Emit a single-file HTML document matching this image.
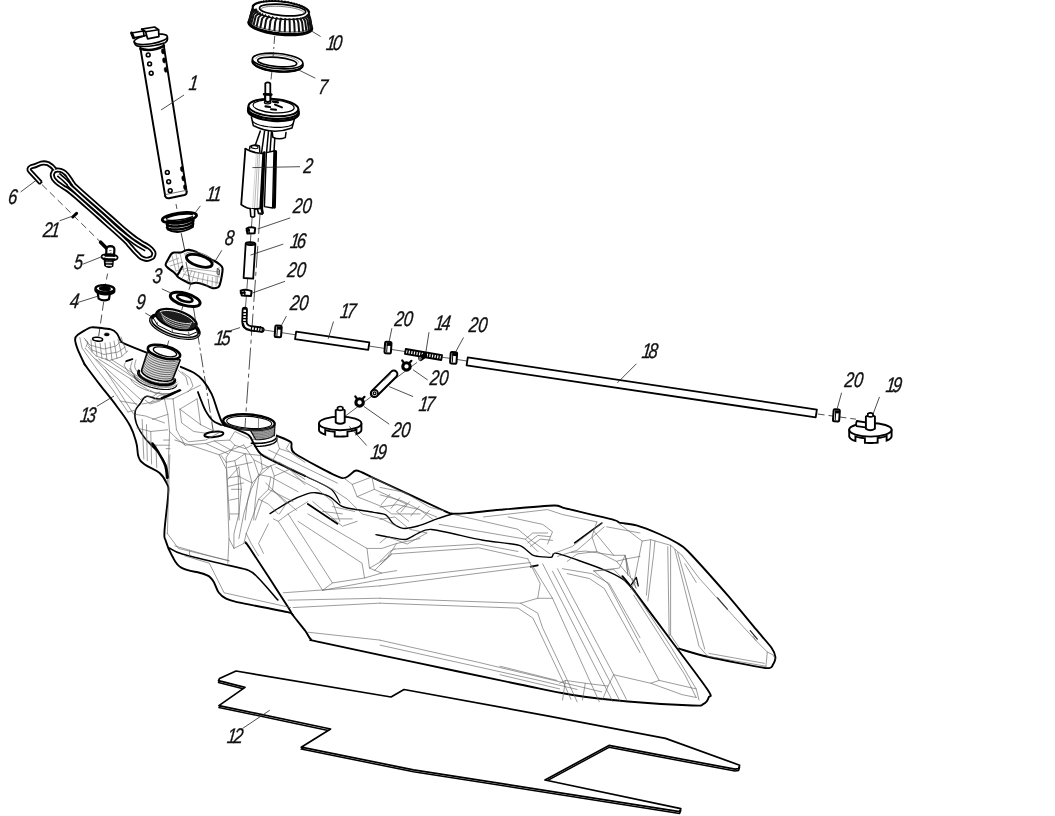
<!DOCTYPE html>
<html><head><meta charset="utf-8"><title>Fuel tank exploded view</title>
<style>html,body{margin:0;padding:0;background:#fff;overflow:hidden}svg{display:block;filter:grayscale(1)}
text{font-family:"Liberation Sans",sans-serif;font-style:italic;fill:#111;stroke:#111;stroke-width:0.35px;text-rendering:geometricPrecision}</style></head>
<body><svg width="1055" height="816" viewBox="0 0 1055 816">
<rect width="1055" height="816" fill="#fff"/>
<text transform="translate(188.3 89.5) skewX(-7) scale(0.78 1)" font-size="21.2">1</text>
<text transform="translate(325.6 49.8) skewX(-7) scale(0.78 1)" font-size="21.2" letter-spacing="-3.1">10</text>
<text transform="translate(317.8 93.7) skewX(-7) scale(0.78 1)" font-size="21.2">7</text>
<text transform="translate(302.9 172.6) skewX(-7) scale(0.78 1)" font-size="21.2">2</text>
<text transform="translate(292.5 213.1) skewX(-7) scale(0.78 1)" font-size="21.2">20</text>
<text transform="translate(289.5 247.7) skewX(-7) scale(0.78 1)" font-size="21.2" letter-spacing="-3.1">16</text>
<text transform="translate(286.8 276.8) skewX(-7) scale(0.78 1)" font-size="21.2">20</text>
<text transform="translate(205.5 201.4) skewX(-7) scale(0.78 1)" font-size="21.2" letter-spacing="-2.4">11</text>
<text transform="translate(224.2 244.8) skewX(-7) scale(0.78 1)" font-size="21.2">8</text>
<text transform="translate(151.9 282.8) skewX(-7) scale(0.78 1)" font-size="21.2">3</text>
<text transform="translate(7.5 203.5) skewX(-7) scale(0.78 1)" font-size="21.2">6</text>
<text transform="translate(42.4 236.8) skewX(-7) scale(0.78 1)" font-size="21.2" letter-spacing="-2.2">21</text>
<text transform="translate(73.2 268.7) skewX(-7) scale(0.78 1)" font-size="21.2">5</text>
<text transform="translate(69.3 308) skewX(-7) scale(0.78 1)" font-size="21.2">4</text>
<text transform="translate(135.6 308.6) skewX(-7) scale(0.78 1)" font-size="21.2">9</text>
<text transform="translate(214.1 344.5) skewX(-7) scale(0.78 1)" font-size="21.2" letter-spacing="-3.1">15</text>
<text transform="translate(289.4 310.3) skewX(-7) scale(0.78 1)" font-size="21.2">20</text>
<text transform="translate(339.6 318.4) skewX(-7) scale(0.78 1)" font-size="21.2" letter-spacing="-3.1">17</text>
<text transform="translate(393.9 326.1) skewX(-7) scale(0.78 1)" font-size="21.2">20</text>
<text transform="translate(434.1 330.3) skewX(-7) scale(0.78 1)" font-size="21.2" letter-spacing="-3.1">14</text>
<text transform="translate(468.3 332) skewX(-7) scale(0.78 1)" font-size="21.2">20</text>
<text transform="translate(641.2 358.3) skewX(-7) scale(0.78 1)" font-size="21.2" letter-spacing="-3.1">18</text>
<text transform="translate(429.2 385) skewX(-7) scale(0.78 1)" font-size="21.2">20</text>
<text transform="translate(418.2 411.2) skewX(-7) scale(0.78 1)" font-size="21.2" letter-spacing="-3.1">17</text>
<text transform="translate(391.4 436.8) skewX(-7) scale(0.78 1)" font-size="21.2">20</text>
<text transform="translate(370 458.8) skewX(-7) scale(0.78 1)" font-size="21.2" letter-spacing="-3.1">19</text>
<text transform="translate(844.1 387.3) skewX(-7) scale(0.78 1)" font-size="21.2">20</text>
<text transform="translate(885.2 391.6) skewX(-7) scale(0.78 1)" font-size="21.2" letter-spacing="-3.1">19</text>
<text transform="translate(79.4 421.8) skewX(-7) scale(0.78 1)" font-size="21.2" letter-spacing="-3.1">13</text>
<text transform="translate(226.6 742.6) skewX(-7) scale(0.78 1)" font-size="21.2" letter-spacing="-3.1">12</text>
<path d="M140.3,47.5 L165.2,196" stroke="#000" stroke-width="1.9" fill="none" stroke-linejoin="round" stroke-linecap="round"/>
<path d="M163.6,44.5 L186.6,191.5" stroke="#000" stroke-width="1.9" fill="none" stroke-linejoin="round" stroke-linecap="round"/>
<path d="M165.2,196 Q166,198.6 169,198.2 L184.5,195 Q187.2,194.2 186.6,191.5" stroke="#000" stroke-width="1.9" fill="none" stroke-linejoin="round" stroke-linecap="round"/>
<path d="M166,194.5 L186.3,190.3" stroke="#666" stroke-width="0.9" fill="none" stroke-linejoin="round" stroke-linecap="round"/>
<path d="M140.5,48.8 Q151.6,52.2 163.9,45.8" stroke="#000" stroke-width="2.6" fill="none" stroke-linejoin="round" stroke-linecap="round"/>
<ellipse cx="150.8" cy="39.2" rx="16.8" ry="4.6" stroke="#000" stroke-width="1.6" fill="#fff" transform="rotate(-9 150.8 39.2)"/>
<path d="M134.3,41.5 Q134.4,45.2 138,46.2 Q151,47.6 165,42.8 Q168,41 167.4,37.4" stroke="#000" stroke-width="1.7" fill="none" stroke-linejoin="round" stroke-linecap="round"/>
<path d="M131.6,33 L143.4,31 L144,35.8 L133.6,37.8 Z" stroke="#000" stroke-width="1.7" fill="#fff" stroke-linejoin="round" stroke-linecap="round"/>
<path d="M131.6,33 L133.6,37.8" stroke="#000" stroke-width="3" fill="none" stroke-linejoin="round" stroke-linecap="round"/>
<path d="M141.6,29.2 L154.6,27 L158.6,29.8 L158.9,36.6 L147.6,38.8 L145.6,31.8 Z" stroke="#000" stroke-width="1.7" fill="#fff" stroke-linejoin="round" stroke-linecap="round"/>
<path d="M145.6,31.8 L158.6,29.8" stroke="#000" stroke-width="1.4" fill="none" stroke-linejoin="round" stroke-linecap="round"/>
<path d="M141.6,29.2 L145.6,31.8" stroke="#000" stroke-width="1.4" fill="none" stroke-linejoin="round" stroke-linecap="round"/>
<ellipse cx="148.2" cy="54.9" rx="1.9" ry="1.9" stroke="#000" stroke-width="1.6" fill="none"/>
<ellipse cx="149.6" cy="63.9" rx="1.9" ry="1.9" stroke="#000" stroke-width="1.6" fill="none"/>
<ellipse cx="151.2" cy="73.2" rx="1.9" ry="1.9" stroke="#000" stroke-width="1.6" fill="none"/>
<ellipse cx="167.3" cy="172.4" rx="1.9" ry="1.9" stroke="#000" stroke-width="1.6" fill="none"/>
<ellipse cx="168.7" cy="181.7" rx="1.9" ry="1.9" stroke="#000" stroke-width="1.6" fill="none"/>
<ellipse cx="170.2" cy="190.7" rx="1.9" ry="1.9" stroke="#000" stroke-width="1.6" fill="none"/>
<ellipse cx="162.9" cy="51.4" rx="1.5" ry="2.6" stroke="#000" stroke-width="0.5" fill="#000" transform="rotate(-9 162.9 51.4)"/>
<ellipse cx="164.1" cy="60.4" rx="1.5" ry="2.6" stroke="#000" stroke-width="0.5" fill="#000" transform="rotate(-9 164.1 60.4)"/>
<ellipse cx="165.7" cy="69.8" rx="1.5" ry="2.6" stroke="#000" stroke-width="0.5" fill="#000" transform="rotate(-9 165.7 69.8)"/>
<ellipse cx="181.9" cy="169.1" rx="1.5" ry="2.6" stroke="#000" stroke-width="0.5" fill="#000" transform="rotate(-9 181.9 169.1)"/>
<ellipse cx="183.3" cy="178.4" rx="1.5" ry="2.6" stroke="#000" stroke-width="0.5" fill="#000" transform="rotate(-9 183.3 178.4)"/>
<ellipse cx="185" cy="187.3" rx="1.5" ry="2.6" stroke="#000" stroke-width="0.5" fill="#000" transform="rotate(-9 185 187.3)"/>
<line x1="161" y1="110" x2="184" y2="95" stroke="#222" stroke-width="0.8" stroke-linecap="butt"/>
<line x1="176" y1="204" x2="179" y2="220" stroke="#222" stroke-width="0.8" stroke-linecap="butt" stroke-dasharray="5 3"/>
<path d="M312.01,27.31 L312.29,28.15 L312.32,28.97 L312.12,29.76 L311.67,30.52 L310.98,31.24 L310.06,31.93 L308.91,32.56 L307.55,33.14 L305.97,33.66 L304.21,34.12 L302.26,34.52 L300.14,34.85 L297.87,35.11 L295.47,35.29 L292.95,35.4 L290.34,35.44 L287.65,35.41 L284.9,35.29 L282.12,35.11 L279.33,34.85 L276.54,34.52 L273.78,34.12 L271.07,33.66 L268.43,33.14 L265.89,32.56 L263.45,31.93 L261.14,31.25 L258.97,30.52 L256.97,29.76 L255.14,28.97 L253.51,28.15 L252.08,27.31 L250.87,26.46 L249.88,25.6 L249.12,24.74 L248.59,23.89 L248.31,23.05 L248.28,22.23 L248.48,21.44 L248.93,20.68 L252.75,7.25 L253,6.37 L253.55,5.54 L254.4,4.75 L255.54,4.03 L256.96,3.37 L258.64,2.79 L260.56,2.29 L262.7,1.87 L265.04,1.55 L267.56,1.32 L270.21,1.19 L272.99,1.15 L275.85,1.22 L278.76,1.39 L281.7,1.65 L284.63,2 L287.51,2.45 L290.32,2.98 L293.03,3.59 L295.6,4.27 L298.01,5.01 L300.23,5.82 L302.24,6.67 L304.02,7.56 L305.54,8.48 L306.79,9.41 L307.75,10.36 L308.42,11.31 L308.79,12.24 L308.85,13.15 Z" stroke="#000" stroke-width="1.8" fill="#fff" stroke-linejoin="round" stroke-linecap="round"/>
<path d="M311.63,28.29 L311.36,29.17 L310.76,30 L309.82,30.77 L308.55,31.49 L306.98,32.13 L305.12,32.69 L302.98,33.17 L300.59,33.56 L297.99,33.85 L295.19,34.05 L292.22,34.15 L289.13,34.15 L285.93,34.05 L282.68,33.85 L279.4,33.55 L276.13,33.16 L272.91,32.68 L269.76,32.12 L266.74,31.47 L263.86,30.76 L261.16,29.98 L258.67,29.15 L256.42,28.28 L254.43,27.36 L252.72,26.42 L251.32,25.47 L250.23,24.51 L249.47,23.56 L249.05,22.62 L248.97,21.71" stroke="#000" stroke-width="2.6" fill="none" stroke-linejoin="round" stroke-linecap="round"/>
<path d="M311.34,27.16 L310.79,27.97 L309.9,28.72 L308.68,29.41 L307.14,30.03 L305.31,30.58 L303.2,31.04 L300.83,31.42 L298.24,31.7 L295.44,31.89 L292.48,31.97 L289.38,31.97 L286.19,31.86 L282.93,31.65 L279.64,31.36 L276.37,30.96 L273.14,30.49 L269.99,29.93 L266.96,29.29 L264.08,28.59 L261.38,27.82 L258.91,27.01 L256.67,26.15 L254.7,25.26 L253.02,24.34 L251.65,23.42 L250.6,22.49 L249.88,21.57 L249.51,20.66" stroke="#444" stroke-width="0.8" fill="none" stroke-linejoin="round" stroke-linecap="round"/>
<path d="M308.65,13.53 L308.4,14.38 L307.86,15.2 L307.01,15.97 L305.88,16.67 L304.48,17.31 L302.81,17.88 L300.91,18.36 L298.78,18.77 L296.46,19.08 L293.96,19.3 L291.32,19.42 L288.57,19.45 L285.73,19.38 L282.84,19.21 L279.92,18.95 L277.02,18.6 L274.15,18.16 L271.36,17.64 L268.67,17.04 L266.12,16.37 L263.72,15.64 L261.51,14.85 L259.52,14.01 L257.76,13.14 L256.25,12.24 L255,11.32 L254.04,10.4 L253.38,9.47 L253.01,8.56 L252.95,7.67" stroke="#000" stroke-width="1.4" fill="none" stroke-linejoin="round" stroke-linecap="round"/>
<path d="M307.05,14.36 Q310.2,17.27 310.2,18.27 L311.44,27.3" stroke="#111" stroke-width="2.0" fill="none" stroke-linejoin="round" stroke-linecap="butt"/>
<path d="M306.17,15.38 Q309.31,18.57 309.31,19.57 L310.58,28.6" stroke="#111" stroke-width="2.0" fill="none" stroke-linejoin="round" stroke-linecap="butt"/>
<path d="M304.65,16.28 Q307.63,19.72 307.63,20.72 L308.86,29.76" stroke="#111" stroke-width="2.0" fill="none" stroke-linejoin="round" stroke-linecap="butt"/>
<path d="M302.54,17.04 Q305.21,20.71 305.21,21.71 L306.34,30.75" stroke="#111" stroke-width="2.0" fill="none" stroke-linejoin="round" stroke-linecap="butt"/>
<path d="M299.88,17.64 Q302.11,21.51 302.11,22.51 L303.08,31.53" stroke="#111" stroke-width="2.0" fill="none" stroke-linejoin="round" stroke-linecap="butt"/>
<path d="M296.75,18.07 Q298.42,22.08 298.42,23.08 L299.17,32.09" stroke="#111" stroke-width="2.0" fill="none" stroke-linejoin="round" stroke-linecap="butt"/>
<path d="M293.22,18.31 Q294.25,22.41 294.25,23.41 L294.73,32.41" stroke="#111" stroke-width="2.0" fill="none" stroke-linejoin="round" stroke-linecap="butt"/>
<path d="M289.4,18.35 Q289.71,22.51 289.71,23.51 L289.89,32.47" stroke="#111" stroke-width="2.0" fill="none" stroke-linejoin="round" stroke-linecap="butt"/>
<path d="M285.39,18.2 Q284.92,22.35 284.92,23.35 L284.77,32.29" stroke="#111" stroke-width="2.0" fill="none" stroke-linejoin="round" stroke-linecap="butt"/>
<path d="M281.28,17.86 Q280.02,21.95 280.02,22.95 L279.53,31.85" stroke="#111" stroke-width="2.0" fill="none" stroke-linejoin="round" stroke-linecap="butt"/>
<path d="M277.19,17.34 Q275.15,21.32 275.15,22.32 L274.32,31.19" stroke="#111" stroke-width="2.0" fill="none" stroke-linejoin="round" stroke-linecap="butt"/>
<path d="M273.23,16.65 Q270.43,20.48 270.43,21.48 L269.28,30.31" stroke="#111" stroke-width="2.0" fill="none" stroke-linejoin="round" stroke-linecap="butt"/>
<path d="M269.5,15.81 Q266.01,19.45 266.01,20.45 L264.55,29.23" stroke="#111" stroke-width="2.0" fill="none" stroke-linejoin="round" stroke-linecap="butt"/>
<path d="M266.11,14.85 Q262,18.25 262,19.25 L260.27,28" stroke="#111" stroke-width="2.0" fill="none" stroke-linejoin="round" stroke-linecap="butt"/>
<path d="M263.13,13.78 Q258.51,16.92 258.51,17.92 L256.57,26.64" stroke="#111" stroke-width="2.0" fill="none" stroke-linejoin="round" stroke-linecap="butt"/>
<path d="M260.65,12.64 Q255.64,15.5 255.64,16.5 L253.54,25.2" stroke="#111" stroke-width="2.0" fill="none" stroke-linejoin="round" stroke-linecap="butt"/>
<path d="M258.74,11.45 Q253.48,14.03 253.48,15.03 L251.28,23.71" stroke="#111" stroke-width="2.0" fill="none" stroke-linejoin="round" stroke-linecap="butt"/>
<path d="M257.45,10.25 Q252.08,12.55 252.08,13.55 L249.84,22.22" stroke="#111" stroke-width="2.0" fill="none" stroke-linejoin="round" stroke-linecap="butt"/>
<path d="M256.8,9.08 Q251.47,11.1 251.47,12.1 L249.27,20.76" stroke="#111" stroke-width="2.0" fill="none" stroke-linejoin="round" stroke-linecap="butt"/>
<ellipse cx="252.74" cy="6.28" rx="0.9" ry="0.8" stroke="#000" stroke-width="0.4" fill="#000"/>
<ellipse cx="253.31" cy="5.34" rx="0.9" ry="0.8" stroke="#000" stroke-width="0.4" fill="#000"/>
<ellipse cx="254.24" cy="4.46" rx="0.9" ry="0.8" stroke="#000" stroke-width="0.4" fill="#000"/>
<ellipse cx="255.51" cy="3.66" rx="0.9" ry="0.8" stroke="#000" stroke-width="0.4" fill="#000"/>
<ellipse cx="257.1" cy="2.93" rx="0.9" ry="0.8" stroke="#000" stroke-width="0.4" fill="#000"/>
<ellipse cx="259.01" cy="2.3" rx="0.9" ry="0.8" stroke="#000" stroke-width="0.4" fill="#000"/>
<ellipse cx="261.2" cy="1.77" rx="0.9" ry="0.8" stroke="#000" stroke-width="0.4" fill="#000"/>
<ellipse cx="263.65" cy="1.34" rx="0.9" ry="0.8" stroke="#000" stroke-width="0.4" fill="#000"/>
<ellipse cx="266.32" cy="1.03" rx="0.9" ry="0.8" stroke="#000" stroke-width="0.4" fill="#000"/>
<ellipse cx="269.18" cy="0.84" rx="0.9" ry="0.8" stroke="#000" stroke-width="0.4" fill="#000"/>
<ellipse cx="272.18" cy="0.76" rx="0.9" ry="0.8" stroke="#000" stroke-width="0.4" fill="#000"/>
<ellipse cx="275.31" cy="0.8" rx="0.9" ry="0.8" stroke="#000" stroke-width="0.4" fill="#000"/>
<ellipse cx="278.5" cy="0.97" rx="0.9" ry="0.8" stroke="#000" stroke-width="0.4" fill="#000"/>
<ellipse cx="281.72" cy="1.25" rx="0.9" ry="0.8" stroke="#000" stroke-width="0.4" fill="#000"/>
<ellipse cx="284.93" cy="1.64" rx="0.9" ry="0.8" stroke="#000" stroke-width="0.4" fill="#000"/>
<ellipse cx="288.09" cy="2.15" rx="0.9" ry="0.8" stroke="#000" stroke-width="0.4" fill="#000"/>
<ellipse cx="291.15" cy="2.75" rx="0.9" ry="0.8" stroke="#000" stroke-width="0.4" fill="#000"/>
<ellipse cx="294.08" cy="3.45" rx="0.9" ry="0.8" stroke="#000" stroke-width="0.4" fill="#000"/>
<ellipse cx="296.83" cy="4.24" rx="0.9" ry="0.8" stroke="#000" stroke-width="0.4" fill="#000"/>
<ellipse cx="299.38" cy="5.1" rx="0.9" ry="0.8" stroke="#000" stroke-width="0.4" fill="#000"/>
<ellipse cx="301.68" cy="6.02" rx="0.9" ry="0.8" stroke="#000" stroke-width="0.4" fill="#000"/>
<ellipse cx="303.71" cy="7" rx="0.9" ry="0.8" stroke="#000" stroke-width="0.4" fill="#000"/>
<ellipse cx="305.45" cy="8.01" rx="0.9" ry="0.8" stroke="#000" stroke-width="0.4" fill="#000"/>
<ellipse cx="306.86" cy="9.05" rx="0.9" ry="0.8" stroke="#000" stroke-width="0.4" fill="#000"/>
<ellipse cx="307.94" cy="10.11" rx="0.9" ry="0.8" stroke="#000" stroke-width="0.4" fill="#000"/>
<ellipse cx="308.66" cy="11.16" rx="0.9" ry="0.8" stroke="#000" stroke-width="0.4" fill="#000"/>
<ellipse cx="309.02" cy="12.19" rx="0.9" ry="0.8" stroke="#000" stroke-width="0.4" fill="#000"/>
<ellipse cx="282.6" cy="10" rx="23.2" ry="5.6" stroke="#000" stroke-width="1.7" fill="#fff" transform="rotate(5 282.6 10)"/>
<path d="M261.18,9.33 L261.34,8.86 L261.73,8.41 L262.35,8 L263.2,7.62 L264.25,7.29 L265.51,6.99 L266.95,6.74 L268.57,6.54 L270.34,6.39 L272.24,6.29 L274.25,6.25 L276.36,6.26 L278.54,6.33 L280.76,6.45 L283,6.62 L285.24,6.84 L287.45,7.11 L289.6,7.42 L291.68,7.78 L293.66,8.17 L295.51,8.59 L297.23,9.05 L298.79,9.53 L300.16,10.02 L301.35,10.53 L302.33,11.05 L303.09,11.57 L303.63,12.08 L303.94,12.58 L304.02,13.07" stroke="#555" stroke-width="0.8" fill="none" stroke-linejoin="round" stroke-linecap="round"/>
<line x1="311.8" y1="31.2" x2="320.6" y2="36.5" stroke="#222" stroke-width="0.8" stroke-linecap="butt"/>
<line x1="274.7" y1="36" x2="273.5" y2="52" stroke="#222" stroke-width="0.8" stroke-linecap="butt" stroke-dasharray="8 3 2 3"/>
<ellipse cx="277.6" cy="63.2" rx="25.3" ry="8" stroke="#000" stroke-width="2.2" fill="none" transform="rotate(5 277.6 63.2)"/>
<ellipse cx="277.6" cy="61" rx="25.3" ry="7.6" stroke="#000" stroke-width="1.6" fill="#fff" transform="rotate(5 277.6 61)"/>
<path d="M301.62,67.83 L300.95,68.57 L300.02,69.26 L298.83,69.89 L297.39,70.47 L295.73,70.97 L293.85,71.39 L291.79,71.74 L289.57,72 L287.21,72.18 L284.73,72.26 L282.18,72.25 L279.57,72.16 L276.94,71.97 L274.31,71.7 L271.73,71.34 L269.21,70.9 L266.79,70.39 L264.49,69.81 L262.35,69.16 L260.38,68.47 L258.61,67.72 L257.06,66.94 L255.74,66.12 L254.68,65.29 L253.88,64.45 L253.35,63.6" stroke="#000" stroke-width="1.2" fill="none" stroke-linejoin="round" stroke-linecap="round"/>
<ellipse cx="277.2" cy="62" rx="19.6" ry="4.6" stroke="#000" stroke-width="1.6" fill="#fff" transform="rotate(5 277.2 62)"/>
<path d="M255.91,58.43 L256.28,57.85 L256.88,57.31 L257.72,56.8 L258.77,56.34 L260.02,55.93 L261.48,55.57 L263.1,55.27 L264.89,55.04 L266.81,54.87 L268.85,54.76 L270.99,54.73 L273.19,54.76 L275.44,54.86 L277.71,55.02 L279.97,55.25 L282.2,55.55 L284.37,55.9 L286.47,56.3 L288.46,56.76 L290.33,57.26 L292.04,57.81 L293.59,58.38 L294.96,58.98 L296.13,59.61 L297.08,60.24 L297.82,60.89 L298.32,61.53 L298.58,62.16" stroke="#666" stroke-width="0.7" fill="none" stroke-linejoin="round" stroke-linecap="round"/>
<line x1="298.8" y1="70" x2="315.3" y2="78.2" stroke="#222" stroke-width="0.8" stroke-linecap="butt"/>
<line x1="273.4" y1="52" x2="272.9" y2="60" stroke="#222" stroke-width="0.8" stroke-linecap="butt" stroke-dasharray="6 2"/>
<line x1="271.9" y1="71.5" x2="270.7" y2="82" stroke="#222" stroke-width="0.8" stroke-linecap="butt" stroke-dasharray="8 3 2 3"/>
<path d="M265.3,101 L265.3,83.5 Q267.8,81.3 270.3,83.5 L270.3,101" stroke="#000" stroke-width="1.8" fill="#fff" stroke-linejoin="round" stroke-linecap="round"/>
<path d="M264.2,94.2 L271.2,94.6" stroke="#000" stroke-width="2.2" fill="none" stroke-linejoin="round" stroke-linecap="round"/>
<ellipse cx="267.6" cy="102.3" rx="3" ry="1.2" stroke="#000" stroke-width="1.2" fill="#fff"/>
<line x1="260.5" y1="130.5" x2="255.2" y2="145.5" stroke="#000" stroke-width="1.5" stroke-linecap="butt"/>
<line x1="264.6" y1="130.8" x2="261.5" y2="153" stroke="#000" stroke-width="1.5" stroke-linecap="butt"/>
<line x1="268.5" y1="131" x2="266.5" y2="153" stroke="#000" stroke-width="1.5" stroke-linecap="butt"/>
<line x1="271.5" y1="131" x2="270" y2="152" stroke="#000" stroke-width="1.5" stroke-linecap="butt"/>
<line x1="275" y1="134" x2="274" y2="152" stroke="#000" stroke-width="1.5" stroke-linecap="butt"/>
<path d="M272.3,132.4 L272.8,137.2 Q279,140.2 285.3,137.6 L286,132.4" stroke="#000" stroke-width="1.5" fill="#fff" stroke-linejoin="round" stroke-linecap="round"/>
<path d="M251.4,117 L253.3,125.6 Q272,135.5 292,128 L294.4,119" stroke="#000" stroke-width="1.5" fill="#fff" stroke-linejoin="round" stroke-linecap="round"/>
<path d="M293.04,123.5 L292.7,124.07 L292.13,124.61 L291.35,125.11 L290.36,125.57 L289.17,125.99 L287.8,126.36 L286.26,126.68 L284.57,126.94 L282.75,127.14 L280.81,127.28 L278.79,127.35 L276.7,127.36 L274.56,127.31 L272.41,127.19 L270.26,127 L268.14,126.76 L266.07,126.46 L264.07,126.11 L262.18,125.7 L260.4,125.25 L258.76,124.76 L257.28,124.23 L255.98,123.67 L254.86,123.09 L253.94,122.49 L253.24,121.89 L252.75,121.28 L252.49,120.67" stroke="#000" stroke-width="1.2" fill="none" stroke-linejoin="round" stroke-linecap="round"/>
<ellipse cx="273.4" cy="112.2" rx="25.4" ry="8.6" stroke="#000" stroke-width="2.4" fill="#fff" transform="rotate(4 273.4 112.2)"/>
<ellipse cx="273.4" cy="110.2" rx="25.4" ry="8.6" stroke="#000" stroke-width="2.2" fill="#fff" transform="rotate(4 273.4 110.2)"/>
<ellipse cx="273.4" cy="107.6" rx="25" ry="8.6" stroke="#000" stroke-width="2.0" fill="#fff" transform="rotate(4 273.4 107.6)"/>
<ellipse cx="273.6" cy="106.4" rx="20.6" ry="6.4" stroke="#000" stroke-width="1.2" fill="#fff" transform="rotate(4 273.6 106.4)"/>
<path d="M265.3,96 L265.3,102.3 M270.3,96 L270.3,102.3" stroke="#000" stroke-width="1.8" fill="none" stroke-linejoin="round" stroke-linecap="round"/>
<ellipse cx="267.6" cy="102.5" rx="3.2" ry="1.3" stroke="#000" stroke-width="1.3" fill="#fff"/>
<path d="M265.3,96 L265.3,101 Q267.8,103 270.3,101 L270.3,96" stroke="#000" stroke-width="1.8" fill="#fff" stroke-linejoin="round" stroke-linecap="round"/>
<path d="M264,94.2 L271.4,94.6" stroke="#000" stroke-width="2.4" fill="none" stroke-linejoin="round" stroke-linecap="round"/>
<path d="M273,101.6 L278,102.4" stroke="#000" stroke-width="2.2" fill="none" stroke-linejoin="round" stroke-linecap="round"/>
<path d="M275,104.6 L282,107.4" stroke="#000" stroke-width="2.0" fill="none" stroke-linejoin="round" stroke-linecap="round"/>
<path d="M265.5,106.4 L270,107" stroke="#000" stroke-width="2.2" fill="none" stroke-linejoin="round" stroke-linecap="round"/>
<path d="M271,109.2 L276,109.8" stroke="#000" stroke-width="2.0" fill="none" stroke-linejoin="round" stroke-linecap="round"/>
<path d="M245.4,148.8 L241.2,204.6 Q249,210.6 260.2,208.4 L263.2,153.4" stroke="#000" stroke-width="1.8" fill="#fff" stroke-linejoin="round" stroke-linecap="round"/>
<path d="M249.6,149 L250,146.4 Q254,143.6 259.4,146 L259.8,152" stroke="#000" stroke-width="1.5" fill="#fff" stroke-linejoin="round" stroke-linecap="round"/>
<ellipse cx="254.6" cy="147.2" rx="3.4" ry="1.4" stroke="#000" stroke-width="1.0" fill="none" transform="rotate(8 254.6 147.2)"/>
<path d="M245.4,148.8 Q254,153.6 263.2,153.4" stroke="#000" stroke-width="1.8" fill="none" stroke-linejoin="round" stroke-linecap="round"/>
<line x1="258" y1="153" x2="254.5" y2="208" stroke="#888" stroke-width="0.6" stroke-linecap="butt"/>
<line x1="259.6" y1="153" x2="257" y2="208" stroke="#888" stroke-width="0.6" stroke-linecap="butt"/>
<line x1="256.4" y1="153" x2="252.6" y2="208" stroke="#aaa" stroke-width="0.5" stroke-linecap="butt"/>
<path d="M264.3,152.5 L261.8,209 L262.6,213" stroke="#000" stroke-width="2.6" fill="none" stroke-linejoin="round" stroke-linecap="round"/>
<path d="M266.4,152.6 L264.4,206.6 L272.6,208 L274,151 Z" stroke="#000" stroke-width="1.4" fill="#fff" stroke-linejoin="round" stroke-linecap="round"/>
<path d="M275.6,151.6 L274.4,207.2" stroke="#000" stroke-width="3.0" fill="none" stroke-linejoin="round" stroke-linecap="round"/>
<path d="M257.5,209.5 L258.5,213.4 L262.2,214.2" stroke="#000" stroke-width="1.6" fill="none" stroke-linejoin="round" stroke-linecap="round"/>
<path d="M250.2,208.6 L250.8,216.4 Q252.8,217.8 254.6,216.4 L254.6,209.4" stroke="#000" stroke-width="1.6" fill="#fff" stroke-linejoin="round" stroke-linecap="round"/>
<line x1="252.4" y1="167.6" x2="300" y2="166.7" stroke="#222" stroke-width="0.8" stroke-linecap="butt"/>
<path d="M166.4,221 L167.6,229.4 Q178,235.6 193,227 L193.6,218" stroke="#000" stroke-width="1.8" fill="#fff" stroke-linejoin="round" stroke-linecap="round"/>
<path d="M193.22,217.73 L193.01,218.2 L192.66,218.68 L192.16,219.16 L191.53,219.65 L190.77,220.12 L189.88,220.58 L188.89,221.02 L187.79,221.45 L186.61,221.84 L185.36,222.2 L184.04,222.53 L182.68,222.81 L181.29,223.05 L179.88,223.25 L178.48,223.4 L177.09,223.5 L175.73,223.55 L174.43,223.55 L173.18,223.5 L172.01,223.4 L170.94,223.24 L169.96,223.04 L169.1,222.8 L168.35,222.51 L167.74,222.18 L167.27,221.82 L166.94,221.43" stroke="#000" stroke-width="2.6" fill="none" stroke-linejoin="round" stroke-linecap="round"/>
<path d="M193.22,220.73 L193.01,221.2 L192.66,221.68 L192.16,222.16 L191.53,222.65 L190.77,223.12 L189.88,223.58 L188.89,224.02 L187.79,224.45 L186.61,224.84 L185.36,225.2 L184.04,225.53 L182.68,225.81 L181.29,226.05 L179.88,226.25 L178.48,226.4 L177.09,226.5 L175.73,226.55 L174.43,226.55 L173.18,226.5 L172.01,226.4 L170.94,226.24 L169.96,226.04 L169.1,225.8 L168.35,225.51 L167.74,225.18 L167.27,224.82 L166.94,224.43" stroke="#000" stroke-width="2.6" fill="none" stroke-linejoin="round" stroke-linecap="round"/>
<path d="M193.22,223.73 L193.01,224.2 L192.66,224.68 L192.16,225.16 L191.53,225.65 L190.77,226.12 L189.88,226.58 L188.89,227.02 L187.79,227.45 L186.61,227.84 L185.36,228.2 L184.04,228.53 L182.68,228.81 L181.29,229.05 L179.88,229.25 L178.48,229.4 L177.09,229.5 L175.73,229.55 L174.43,229.55 L173.18,229.5 L172.01,229.4 L170.94,229.24 L169.96,229.04 L169.1,228.8 L168.35,228.51 L167.74,228.18 L167.27,227.82 L166.94,227.43" stroke="#000" stroke-width="2.4" fill="none" stroke-linejoin="round" stroke-linecap="round"/>
<ellipse cx="179.4" cy="217.6" rx="17.2" ry="4.4" stroke="#000" stroke-width="3.0" fill="#fff" transform="rotate(-8 179.4 217.6)"/>
<ellipse cx="179.6" cy="217.2" rx="13.6" ry="2.6" stroke="#000" stroke-width="1.4" fill="#fff" transform="rotate(-8 179.6 217.2)"/>
<ellipse cx="165.2" cy="219.6" rx="1" ry="0.8" stroke="#fff" stroke-width="0.5" fill="#fff"/>
<ellipse cx="193.6" cy="215.6" rx="1" ry="0.8" stroke="#fff" stroke-width="0.5" fill="#fff"/>
<line x1="195.3" y1="212.6" x2="200.4" y2="205.8" stroke="#222" stroke-width="0.8" stroke-linecap="butt"/>
<line x1="181.2" y1="233.2" x2="184.7" y2="250" stroke="#222" stroke-width="0.9" stroke-linecap="butt"/>
<path d="M165.6,265 C165.48,263.55 166.95,261.53 167.9,259.7 C168.85,257.87 170.28,255.2 171.3,254 C172.32,252.8 172.42,252.75 174,252.5 C175.58,252.25 178.92,252.82 180.8,252.5 C182.68,252.18 183.92,251.03 185.3,250.6 C186.68,250.17 187.33,249.7 189.1,249.9 C190.87,250.1 193.75,250.92 195.9,251.8 C198.05,252.68 198.97,253.7 202,255.2 C205.03,256.7 211.2,259.28 214.1,260.8 C217,262.32 218,263.08 219.4,264.3 C220.8,265.52 222.12,266.08 222.5,268.1 C222.88,270.12 222.15,273.63 221.7,276.4 C221.25,279.17 220.43,282.87 219.8,284.7 C219.17,286.53 219.1,286.83 217.9,287.4 C216.7,287.97 214.87,288.55 212.6,288.1 C210.33,287.65 207.08,285.58 204.3,284.7 C201.52,283.82 198.18,282.98 195.9,282.8 C193.62,282.62 192.37,283.85 190.6,283.6 C188.83,283.35 187.32,282.32 185.3,281.3 C183.28,280.28 179.88,278.45 178.5,277.5 C177.12,276.55 177.88,276.55 177,275.6 C176.12,274.65 174.6,273 173.2,271.8 C171.8,270.6 169.87,269.53 168.6,268.4 C167.33,267.27 165.72,266.45 165.6,265 Z" stroke="#000" stroke-width="2.1" fill="#fff" stroke-linejoin="round" stroke-linecap="round"/>
<line x1="172" y1="255.6" x2="176" y2="271.6" stroke="#777" stroke-width="0.6" stroke-linecap="butt"/>
<line x1="176" y1="254" x2="180" y2="273.6" stroke="#777" stroke-width="0.6" stroke-linecap="butt"/>
<line x1="180" y1="253" x2="184" y2="272" stroke="#777" stroke-width="0.6" stroke-linecap="butt"/>
<line x1="168.6" y1="262" x2="179" y2="258" stroke="#777" stroke-width="0.6" stroke-linecap="butt"/>
<line x1="170" y1="266" x2="183" y2="262" stroke="#777" stroke-width="0.6" stroke-linecap="butt"/>
<line x1="184.6" y1="253" x2="187" y2="262" stroke="#777" stroke-width="0.6" stroke-linecap="butt"/>
<line x1="182" y1="278" x2="187" y2="270" stroke="#777" stroke-width="0.6" stroke-linecap="butt"/>
<line x1="187" y1="282" x2="192" y2="270" stroke="#777" stroke-width="0.6" stroke-linecap="butt"/>
<line x1="192" y1="281.6" x2="195" y2="271" stroke="#777" stroke-width="0.6" stroke-linecap="butt"/>
<line x1="197" y1="282.6" x2="199" y2="272.6" stroke="#777" stroke-width="0.6" stroke-linecap="butt"/>
<line x1="202" y1="284.6" x2="203.6" y2="274" stroke="#777" stroke-width="0.6" stroke-linecap="butt"/>
<line x1="207" y1="286.6" x2="208" y2="275.6" stroke="#777" stroke-width="0.6" stroke-linecap="butt"/>
<line x1="212" y1="288" x2="212.4" y2="277" stroke="#777" stroke-width="0.6" stroke-linecap="butt"/>
<line x1="216" y1="286" x2="216" y2="276" stroke="#777" stroke-width="0.6" stroke-linecap="butt"/>
<line x1="187" y1="270" x2="220" y2="277" stroke="#777" stroke-width="0.6" stroke-linecap="butt"/>
<line x1="183" y1="274" x2="196" y2="278" stroke="#777" stroke-width="0.6" stroke-linecap="butt"/>
<line x1="196" y1="278" x2="219" y2="283" stroke="#777" stroke-width="0.6" stroke-linecap="butt"/>
<line x1="176" y1="271" x2="188" y2="268" stroke="#777" stroke-width="0.6" stroke-linecap="butt"/>
<line x1="188" y1="268" x2="219" y2="272" stroke="#777" stroke-width="0.6" stroke-linecap="butt"/>
<line x1="219" y1="267" x2="217" y2="284" stroke="#777" stroke-width="0.6" stroke-linecap="butt"/>
<path d="M177,275.6 L178.5,273.4 L182.3,266.5" stroke="#000" stroke-width="2.0" fill="none" stroke-linejoin="round" stroke-linecap="round"/>
<path d="M217.6,268.6 L219.6,270 L219.2,275 L217.4,274 Z" stroke="#333" stroke-width="0.9" fill="none" stroke-linejoin="round" stroke-linecap="round"/>
<ellipse cx="199.3" cy="260.8" rx="13.4" ry="5.4" stroke="#000" stroke-width="2.8" fill="#fff" transform="rotate(17.3 199.3 260.8)"/>
<path d="M185.78,253.91 L186.31,253.39 L186.99,252.95 L187.82,252.57 L188.78,252.27 L189.86,252.05 L191.06,251.91 L192.35,251.86 L193.72,251.89 L195.15,252.01 L196.64,252.21 L198.15,252.48 L199.69,252.84 L201.21,253.27 L202.72,253.77 L204.19,254.33 L205.6,254.95 L206.94,255.61 L208.2,256.32 L209.35,257.06 L210.39,257.82 L211.3,258.61 L212.08,259.39 L212.71,260.18 L213.18,260.95 L213.5,261.71 L213.65,262.43" stroke="#555" stroke-width="0.8" fill="none" stroke-linejoin="round" stroke-linecap="round"/>
<line x1="215.3" y1="260.9" x2="221.8" y2="250.3" stroke="#222" stroke-width="0.8" stroke-linecap="butt"/>
<ellipse cx="185.2" cy="299.4" rx="15.4" ry="6" stroke="#000" stroke-width="3.0" fill="#fff" transform="rotate(16 185.2 299.4)"/>
<ellipse cx="184.8" cy="298.4" rx="8" ry="3" stroke="#000" stroke-width="2.6" fill="#fff" transform="rotate(16 184.8 298.4)"/>
<line x1="161.8" y1="288.8" x2="170.6" y2="292.9" stroke="#222" stroke-width="0.8" stroke-linecap="butt"/>
<ellipse cx="174.9" cy="326.4" rx="25.2" ry="9.6" stroke="#000" stroke-width="3.4" fill="#fff" transform="rotate(17.7 174.9 326.4)"/>
<path d="M198.91,334.26 L198.47,335.18 L197.78,336 L196.83,336.71 L195.64,337.32 L194.23,337.81 L192.61,338.17 L190.79,338.41 L188.79,338.52 L186.65,338.5 L184.38,338.35 L182,338.07 L179.54,337.67 L177.04,337.14 L174.51,336.5 L171.98,335.75 L169.49,334.89 L167.05,333.95 L164.71,332.93 L162.47,331.84 L160.37,330.69 L158.43,329.5 L156.67,328.27 L155.11,327.03 L153.76,325.78 L152.65,324.54 L151.78,323.32 L151.17,322.14 L150.81,321.01 L150.72,319.94 L150.89,318.94" stroke="#fff" stroke-width="0.7" fill="none" stroke-linejoin="round" stroke-linecap="round"/>
<path d="M197.49,331.71 L189.16,335.29 L172.65,332.6 L157.63,325.23 L152.91,317.49 L161.24,313.91 L177.75,316.6 L192.77,323.97 L197.49,331.71 Z" stroke="#000" stroke-width="1.0" fill="none" stroke-linejoin="round" stroke-linecap="round"/>
<line x1="189.16" y1="335.29" x2="188.56" y2="331.89" stroke="#333" stroke-width="0.8" stroke-linecap="butt"/>
<line x1="172.65" y1="332.6" x2="172.05" y2="329.2" stroke="#333" stroke-width="0.8" stroke-linecap="butt"/>
<line x1="157.63" y1="325.23" x2="157.03" y2="321.83" stroke="#333" stroke-width="0.8" stroke-linecap="butt"/>
<ellipse cx="176.4" cy="319.6" rx="21.2" ry="9" stroke="#000" stroke-width="2.0" fill="#1c1c1c" transform="rotate(17.7 176.4 319.6)"/>
<path d="M160.16,311.76 L161.13,311.31 L162.28,310.96 L163.58,310.7 L165.03,310.54 L166.61,310.49 L168.29,310.53 L170.07,310.68 L171.92,310.93 L173.82,311.28 L175.75,311.72 L177.69,312.25 L179.61,312.87 L181.49,313.56 L183.32,314.31 L185.07,315.13 L186.73,316 L188.26,316.91 L189.66,317.84 L190.92,318.8 L192.01,319.77 L192.92,320.74 L193.65,321.69 L194.18,322.62" stroke="#fff" stroke-width="0.9" fill="none" stroke-linejoin="round" stroke-linecap="round"/>
<path d="M191.68,322.71 L191.02,323.02 L190.2,323.26 L189.23,323.43 L188.13,323.52 L186.91,323.54 L185.57,323.48 L184.14,323.34 L182.63,323.14 L181.05,322.86 L179.42,322.51 L177.77,322.09 L176.11,321.62 L174.45,321.09 L172.82,320.52 L171.24,319.89 L169.71,319.24 L168.27,318.55 L166.91,317.85 L165.67,317.13 L164.54,316.4 L163.55,315.68 L162.71,314.96 L162.02,314.27 L161.49,313.6 L161.13,312.96" stroke="#e8e8e8" stroke-width="1.0" fill="none" stroke-linejoin="round" stroke-linecap="round"/>
<path d="M190.76,324.41 L190.13,324.73 L189.35,324.99 L188.44,325.17 L187.39,325.28 L186.23,325.32 L184.97,325.29 L183.62,325.18 L182.19,325 L180.71,324.75 L179.18,324.43 L177.62,324.05 L176.06,323.61 L174.5,323.11 L172.97,322.56 L171.49,321.97 L170.05,321.35 L168.7,320.69 L167.43,320.01 L166.27,319.32 L165.22,318.61 L164.29,317.91 L163.51,317.22 L162.87,316.54 L162.38,315.88 L162.05,315.25" stroke="#cfcfcf" stroke-width="0.9" fill="none" stroke-linejoin="round" stroke-linecap="round"/>
<path d="M189.84,326.12 L189.24,326.45 L188.5,326.72 L187.64,326.92 L186.65,327.05 L185.56,327.11 L184.37,327.1 L183.1,327.01 L181.76,326.86 L180.37,326.64 L178.93,326.35 L177.47,326 L176.01,325.59 L174.55,325.12 L173.12,324.61 L171.73,324.05 L170.4,323.46 L169.13,322.83 L167.95,322.18 L166.87,321.51 L165.89,320.83 L165.03,320.15 L164.31,319.47 L163.72,318.81 L163.27,318.16 L162.97,317.55" stroke="#e0e0e0" stroke-width="0.9" fill="none" stroke-linejoin="round" stroke-linecap="round"/>
<path d="M189.01,327.66 L188.44,328 L187.74,328.27 L186.92,328.49 L185.99,328.63 L184.95,328.71 L183.83,328.72 L182.63,328.66 L181.37,328.54 L180.06,328.34 L178.71,328.08 L177.34,327.76 L175.96,327.37 L174.6,326.94 L173.26,326.45 L171.95,325.92 L170.7,325.35 L169.52,324.75 L168.42,324.13 L167.41,323.48 L166.5,322.82 L165.7,322.16 L165.03,321.5 L164.48,320.85 L164.07,320.22 L163.8,319.61" stroke="#bbb" stroke-width="0.8" fill="none" stroke-linejoin="round" stroke-linecap="round"/>
<line x1="145.3" y1="313" x2="151.2" y2="316.5" stroke="#222" stroke-width="0.8" stroke-linecap="butt"/>
<line x1="190.8" y1="284" x2="188.5" y2="291" stroke="#222" stroke-width="0.8" stroke-linecap="butt" stroke-dasharray="6 3"/>
<line x1="193.5" y1="308" x2="213.4" y2="432" stroke="#222" stroke-width="0.8" stroke-linecap="butt" stroke-dasharray="14 3 3 3"/>
<line x1="168.8" y1="340.6" x2="165" y2="354" stroke="#222" stroke-width="0.8" stroke-linecap="butt" stroke-dasharray="6 3"/>
<line x1="183" y1="305.6" x2="180.6" y2="314" stroke="#222" stroke-width="0.8" stroke-linecap="butt" stroke-dasharray="5 3"/>
<line x1="186" y1="262" x2="190.4" y2="284" stroke="#333" stroke-width="0.8" stroke-linecap="butt"/>
<line x1="230.6" y1="330.6" x2="240" y2="327.6" stroke="#222" stroke-width="0.8" stroke-linecap="butt"/>
<path d="M58.4,174.6 C59.78,175.8 60.12,175.96 63,178.6 C65.88,181.24 64.7,180.01 68,183.4 C71.3,186.79 64.4,181.02 74,189.9 C83.6,198.78 84.4,199.11 100,213 C115.6,226.89 112.2,225.22 126,236.2 C139.8,247.18 140,245.58 146,249.6" stroke="#000" stroke-width="4.8" fill="none" stroke-linejoin="round" stroke-linecap="butt"/>
<path d="M55.8,170.4 C57.99,169.8 57.59,169.53 60.5,170.4 C63.41,171.27 62.8,170.93 65.5,173.3 C68.2,175.67 67.19,175.15 69.5,178.3 C71.81,181.45 71.01,181.01 73.2,183.8 C75.39,186.59 71.76,182.92 76.8,187.6 C81.84,192.28 80.04,190.58 90,199.4 C99.96,208.22 98.42,206.83 110,217 C121.58,227.17 119.6,225.92 128.6,233.3 C137.6,240.68 134.33,237.73 140,241.6 C145.67,245.47 143.72,243.5 147.5,246.2 C151.28,248.9 150.77,247.9 152.6,250.6 C154.43,253.3 154.44,252.8 153.6,255.2 C152.76,257.6 152.83,257.58 149.8,258.6 C146.77,259.62 147.34,260.1 143.5,258.6 C139.66,257.1 141.05,257.38 137,253.6 C132.95,249.82 134.08,250.38 130,246 C125.92,241.62 130.9,246.08 123.4,239 C115.9,231.92 115.62,231.94 105,222.4 C94.38,212.86 98.08,216.11 88,207.2 C77.92,198.29 79.05,198.91 71.4,192.7 C63.75,186.49 67.24,189.95 62.5,186.5 C57.76,183.05 58.57,184.23 55.6,181.2 C52.63,178.17 53.32,179.04 52.6,176.4 C51.88,173.76 52.24,174.2 53.2,172.4 C54.16,170.6 53.61,171 55.8,170.4 Z" stroke="#000" stroke-width="5.1" fill="none" stroke-linejoin="round" stroke-linecap="round"/>
<path d="M40.6,182.8 L30.2,171.6 Q27.4,168.6 31.2,166.8 Q35.5,166 38.6,164.2 Q43,162 48,163.6 Q52,165.6 55,169.6" stroke="#000" stroke-width="5.1" fill="none" stroke-linejoin="round" stroke-linecap="butt"/>
<path d="M58.4,174.6 C59.78,175.8 60.12,175.96 63,178.6 C65.88,181.24 64.7,180.01 68,183.4 C71.3,186.79 64.4,181.02 74,189.9 C83.6,198.78 84.4,199.11 100,213 C115.6,226.89 112.2,225.22 126,236.2 C139.8,247.18 140,245.58 146,249.6" stroke="#fff" stroke-width="1.5" fill="none" stroke-linejoin="round" stroke-linecap="butt"/>
<path d="M55.8,170.4 C57.99,169.8 57.59,169.53 60.5,170.4 C63.41,171.27 62.8,170.93 65.5,173.3 C68.2,175.67 67.19,175.15 69.5,178.3 C71.81,181.45 71.01,181.01 73.2,183.8 C75.39,186.59 71.76,182.92 76.8,187.6 C81.84,192.28 80.04,190.58 90,199.4 C99.96,208.22 98.42,206.83 110,217 C121.58,227.17 119.6,225.92 128.6,233.3 C137.6,240.68 134.33,237.73 140,241.6 C145.67,245.47 143.72,243.5 147.5,246.2 C151.28,248.9 150.77,247.9 152.6,250.6 C154.43,253.3 154.44,252.8 153.6,255.2 C152.76,257.6 152.83,257.58 149.8,258.6 C146.77,259.62 147.34,260.1 143.5,258.6 C139.66,257.1 141.05,257.38 137,253.6 C132.95,249.82 134.08,250.38 130,246 C125.92,241.62 130.9,246.08 123.4,239 C115.9,231.92 115.62,231.94 105,222.4 C94.38,212.86 98.08,216.11 88,207.2 C77.92,198.29 79.05,198.91 71.4,192.7 C63.75,186.49 67.24,189.95 62.5,186.5 C57.76,183.05 58.57,184.23 55.6,181.2 C52.63,178.17 53.32,179.04 52.6,176.4 C51.88,173.76 52.24,174.2 53.2,172.4 C54.16,170.6 53.61,171 55.8,170.4 Z" stroke="#fff" stroke-width="1.5" fill="none" stroke-linejoin="round" stroke-linecap="round"/>
<path d="M40.6,182.8 L30.2,171.6 Q27.4,168.6 31.2,166.8 Q35.5,166 38.6,164.2 Q43,162 48,163.6 Q52,165.6 55,169.6" stroke="#fff" stroke-width="1.5" fill="none" stroke-linejoin="round" stroke-linecap="butt"/>
<line x1="39.4" y1="184.4" x2="42.2" y2="181.6" stroke="#000" stroke-width="1.5" stroke-linecap="butt"/>
<line x1="20.6" y1="192" x2="36" y2="180.4" stroke="#222" stroke-width="0.8" stroke-linecap="butt"/>
<line x1="42" y1="184.6" x2="100" y2="241.6" stroke="#222" stroke-width="0.8" stroke-linecap="butt" stroke-dasharray="7 4"/>
<line x1="72.8" y1="217" x2="76.6" y2="213.4" stroke="#000" stroke-width="3.0" stroke-linecap="round"/>
<line x1="59.6" y1="220.8" x2="72.8" y2="216" stroke="#222" stroke-width="0.8" stroke-linecap="butt"/>
<line x1="100.6" y1="242.2" x2="106.6" y2="248.2" stroke="#000" stroke-width="3.6" stroke-linecap="round"/>
<path d="M106.2,256 L106.4,249.2 Q106.6,246.4 110.4,246.2 Q114.4,246.4 114.4,249.4 L114,256" stroke="#000" stroke-width="2.2" fill="#fff" stroke-linejoin="round" stroke-linecap="round"/>
<line x1="109" y1="250.6" x2="111.6" y2="250.4" stroke="#555" stroke-width="0.8" stroke-linecap="butt"/>
<line x1="110" y1="253.6" x2="111.4" y2="252.4" stroke="#555" stroke-width="0.8" stroke-linecap="butt"/>
<ellipse cx="109.6" cy="257.2" rx="7.6" ry="2.6" stroke="#000" stroke-width="2.6" fill="#fff" transform="rotate(4 109.6 257.2)"/>
<path d="M105.4,255.6 L113.8,255.6" stroke="#000" stroke-width="2.4" fill="none" stroke-linejoin="round" stroke-linecap="round"/>
<path d="M104.6,259.4 L105.2,265.6 Q108.6,268.4 112.4,265.8 L113,259.6 Z" stroke="#000" stroke-width="2.0" fill="#333" stroke-linejoin="round" stroke-linecap="round"/>
<line x1="105.6" y1="262.4" x2="112.4" y2="262.6" stroke="#ccc" stroke-width="1.0" stroke-linecap="butt"/>
<line x1="106" y1="265.4" x2="112" y2="265.6" stroke="#ddd" stroke-width="1.2" stroke-linecap="butt"/>
<ellipse cx="103.6" cy="256.6" rx="1" ry="0.9" stroke="#fff" stroke-width="0.4" fill="#fff"/>
<ellipse cx="115.6" cy="257.6" rx="1" ry="0.9" stroke="#fff" stroke-width="0.4" fill="#fff"/>
<line x1="82.9" y1="264.2" x2="102" y2="256.6" stroke="#222" stroke-width="0.8" stroke-linecap="butt"/>
<line x1="107.6" y1="273.6" x2="105.4" y2="284.6" stroke="#222" stroke-width="0.8" stroke-linecap="butt" stroke-dasharray="6 4"/>
<path d="M97.8,293.6 L98.6,298.6 Q103.6,301.8 109,299.2 L109.8,294" stroke="#000" stroke-width="2.2" fill="#fff" stroke-linejoin="round" stroke-linecap="round"/>
<ellipse cx="104.9" cy="290.6" rx="9.4" ry="3.6" stroke="#000" stroke-width="2.4" fill="#fff" transform="rotate(3 104.9 290.6)"/>
<ellipse cx="104.9" cy="288.8" rx="9.4" ry="3.6" stroke="#000" stroke-width="2.4" fill="#fff" transform="rotate(3 104.9 288.8)"/>
<ellipse cx="104.9" cy="288.6" rx="5.4" ry="2.1" stroke="#000" stroke-width="1" fill="#000" transform="rotate(3 104.9 288.6)"/>
<line x1="77.8" y1="302.5" x2="97.8" y2="296.2" stroke="#222" stroke-width="0.8" stroke-linecap="butt"/>
<line x1="103.7" y1="301.7" x2="98.4" y2="338" stroke="#222" stroke-width="0.8" stroke-linecap="butt" stroke-dasharray="9 4"/>
<line x1="260.2" y1="212" x2="245.6" y2="418" stroke="#222" stroke-width="0.8" stroke-linecap="butt" stroke-dasharray="22 4 4 4"/>
<line x1="252.2" y1="217" x2="245.4" y2="309" stroke="#333" stroke-width="0.8" stroke-linecap="butt"/>
<path d="M246.6,228.6 L247.4,233.6 L254.6,233.2 L255.2,228.2 Q251,226.2 246.6,228.6 Z" stroke="#000" stroke-width="2.0" fill="#fff" stroke-linejoin="round" stroke-linecap="round"/>
<path d="M248.6,229 L249.4,233.4" stroke="#000" stroke-width="1.4" fill="none" stroke-linejoin="round" stroke-linecap="round"/>
<path d="M246.8,230.6 L249,230.2" stroke="#000" stroke-width="2.2" fill="none" stroke-linejoin="round" stroke-linecap="round"/>
<line x1="257.6" y1="229" x2="290.2" y2="217.9" stroke="#222" stroke-width="0.8" stroke-linecap="butt"/>
<path d="M245.7,243.6 L243.6,278 L253.2,278.6 L255.4,244 Z" stroke="#000" stroke-width="1.8" fill="#fff" stroke-linejoin="round" stroke-linecap="round"/>
<ellipse cx="250.5" cy="243.6" rx="4.8" ry="1.5" stroke="#000" stroke-width="1.6" fill="#222" transform="rotate(3 250.5 243.6)"/>
<line x1="250.4" y1="255.1" x2="283.3" y2="244.1" stroke="#222" stroke-width="0.8" stroke-linecap="butt"/>
<path d="M240.6,290.6 L241.8,295.4 L251,296 L251.6,291.2 Q246,288.6 240.6,290.6 Z" stroke="#000" stroke-width="2.0" fill="#fff" stroke-linejoin="round" stroke-linecap="round"/>
<path d="M244.4,290.6 L245,295.6" stroke="#000" stroke-width="1.4" fill="none" stroke-linejoin="round" stroke-linecap="round"/>
<path d="M240.8,292.8 L244.6,292.6" stroke="#000" stroke-width="2.2" fill="none" stroke-linejoin="round" stroke-linecap="round"/>
<line x1="252.4" y1="293" x2="285" y2="281.3" stroke="#222" stroke-width="0.8" stroke-linecap="butt"/>
<path d="M244.8,309.8 L244.4,321.6 Q244.6,327.4 250.4,328.2 L261.6,329.8" stroke="#000" stroke-width="6.2" fill="none" stroke-linejoin="round" stroke-linecap="round"/>
<path d="M244.8,309.8 L244.4,321.6 Q244.6,327.4 250.4,328.2 L261.6,329.8" stroke="#fff" stroke-width="2.6" fill="none" stroke-linejoin="round" stroke-linecap="butt"/>
<line x1="242.2" y1="312.6" x2="247.2" y2="312.6" stroke="#000" stroke-width="1.3" stroke-linecap="butt"/>
<line x1="242.2" y1="315.6" x2="247.2" y2="315.6" stroke="#000" stroke-width="1.3" stroke-linecap="butt"/>
<line x1="242.2" y1="318.6" x2="247.2" y2="318.6" stroke="#000" stroke-width="1.3" stroke-linecap="butt"/>
<line x1="242.2" y1="321.6" x2="247.2" y2="321.6" stroke="#000" stroke-width="1.3" stroke-linecap="butt"/>
<line x1="251.8" y1="326" x2="251" y2="331.6" stroke="#000" stroke-width="1.3" stroke-linecap="butt"/>
<line x1="254.8" y1="326" x2="254" y2="331.6" stroke="#000" stroke-width="1.3" stroke-linecap="butt"/>
<line x1="257.8" y1="326" x2="257" y2="331.6" stroke="#000" stroke-width="1.3" stroke-linecap="butt"/>
<line x1="260.4" y1="326" x2="259.6" y2="331.6" stroke="#000" stroke-width="1.3" stroke-linecap="butt"/>
<path d="M243.4,323.6 Q244.4,328.6 249.4,329.4" stroke="#000" stroke-width="1.2" fill="none" stroke-linejoin="round" stroke-linecap="round"/>
<line x1="261.6" y1="329.6" x2="467" y2="361" stroke="#333" stroke-width="0.8" stroke-linecap="butt"/>
<g transform="translate(278.2 331.4) rotate(4)">
<rect x="-3.2" y="-5.75" width="6.4" height="11.5" rx="1.2" fill="#fff" stroke="#000" stroke-width="2"/>
<path d="M-1.0,-4.75 L-1.0,4.75" stroke="#000" stroke-width="1"/>
<path d="M-1.6,-3.35 L3.2,-3.35" stroke="#000" stroke-width="3"/>
</g>
<line x1="281.6" y1="325" x2="286.4" y2="316.1" stroke="#222" stroke-width="0.8" stroke-linecap="butt"/>
<path d="M295.05,339.16 L368.25,349.96 L369.35,342.44 L296.15,331.64 Z" stroke="#000" stroke-width="1.8" fill="#fff" stroke-linejoin="round" stroke-linecap="round"/>
<line x1="333.5" y1="321.5" x2="328.2" y2="338.8" stroke="#222" stroke-width="0.8" stroke-linecap="butt"/>
<g transform="translate(388 347.6) rotate(4)">
<rect x="-3.2" y="-5.75" width="6.4" height="11.5" rx="1.2" fill="#fff" stroke="#000" stroke-width="2"/>
<path d="M-1.0,-4.75 L-1.0,4.75" stroke="#000" stroke-width="1"/>
<path d="M-1.6,-3.35 L3.2,-3.35" stroke="#000" stroke-width="3"/>
</g>
<line x1="391.9" y1="328.2" x2="389.2" y2="341.4" stroke="#222" stroke-width="0.8" stroke-linecap="butt"/>
<path d="M404.98,353.86 L441.18,360.06 L442.02,355.14 L405.82,348.94 Z" stroke="#000" stroke-width="1.9" fill="#fff" stroke-linejoin="round" stroke-linecap="round"/>
<line x1="408.44" y1="349.24" x2="407.54" y2="354.44" stroke="#000" stroke-width="1.5" stroke-linecap="butt"/>
<line x1="411.02" y1="349.69" x2="410.12" y2="354.89" stroke="#000" stroke-width="1.5" stroke-linecap="butt"/>
<line x1="413.61" y1="350.13" x2="412.71" y2="355.33" stroke="#000" stroke-width="1.5" stroke-linecap="butt"/>
<line x1="416.19" y1="350.57" x2="415.29" y2="355.77" stroke="#000" stroke-width="1.5" stroke-linecap="butt"/>
<line x1="418.78" y1="351.01" x2="417.88" y2="356.21" stroke="#000" stroke-width="1.5" stroke-linecap="butt"/>
<line x1="421.36" y1="351.46" x2="420.46" y2="356.66" stroke="#000" stroke-width="1.5" stroke-linecap="butt"/>
<line x1="423.95" y1="351.9" x2="423.05" y2="357.1" stroke="#000" stroke-width="1.5" stroke-linecap="butt"/>
<line x1="426.54" y1="352.34" x2="425.64" y2="357.54" stroke="#000" stroke-width="1.5" stroke-linecap="butt"/>
<line x1="429.12" y1="352.79" x2="428.22" y2="357.99" stroke="#000" stroke-width="1.5" stroke-linecap="butt"/>
<line x1="431.71" y1="353.23" x2="430.81" y2="358.43" stroke="#000" stroke-width="1.5" stroke-linecap="butt"/>
<line x1="434.29" y1="353.67" x2="433.39" y2="358.87" stroke="#000" stroke-width="1.5" stroke-linecap="butt"/>
<line x1="436.88" y1="354.11" x2="435.98" y2="359.31" stroke="#000" stroke-width="1.5" stroke-linecap="butt"/>
<line x1="439.46" y1="354.56" x2="438.56" y2="359.76" stroke="#000" stroke-width="1.5" stroke-linecap="butt"/>
<line x1="424.8" y1="355.4" x2="420.6" y2="358.6" stroke="#000" stroke-width="5.0" stroke-linecap="round"/>
<ellipse cx="420" cy="358.8" rx="1.3" ry="1.6" stroke="#999" stroke-width="0.6" fill="#666" transform="rotate(40 420 358.8)"/>
<line x1="429" y1="332.2" x2="425.9" y2="352" stroke="#222" stroke-width="0.8" stroke-linecap="butt"/>
<g transform="translate(453.6 357.8) rotate(4)">
<rect x="-3.2" y="-5.75" width="6.4" height="11.5" rx="1.2" fill="#fff" stroke="#000" stroke-width="2"/>
<path d="M-1.0,-4.75 L-1.0,4.75" stroke="#000" stroke-width="1"/>
<path d="M-1.6,-3.35 L3.2,-3.35" stroke="#000" stroke-width="3"/>
</g>
<line x1="463.5" y1="337.5" x2="455.6" y2="352" stroke="#222" stroke-width="0.8" stroke-linecap="butt"/>
<path d="M466.61,365.36 L815.71,417.46 L816.89,409.54 L467.79,357.44 Z" stroke="#000" stroke-width="1.8" fill="#fff" stroke-linejoin="round" stroke-linecap="round"/>
<line x1="636.4" y1="363.8" x2="617.3" y2="382.9" stroke="#222" stroke-width="0.8" stroke-linecap="butt"/>
<line x1="817.6" y1="414" x2="856" y2="419.2" stroke="#222" stroke-width="0.8" stroke-linecap="butt" stroke-dasharray="7 4"/>
<g transform="translate(836.4 415.4) rotate(4)">
<rect x="-3.1" y="-6.0" width="6.2" height="12" rx="1.2" fill="#fff" stroke="#000" stroke-width="2"/>
<path d="M-0.8999999999999999,-5.0 L-0.8999999999999999,5.0" stroke="#000" stroke-width="1"/>
<path d="M-1.5,-3.6 L3.1,-3.6" stroke="#000" stroke-width="3"/>
</g>
<line x1="841.6" y1="392.7" x2="837.1" y2="408.9" stroke="#222" stroke-width="0.8" stroke-linecap="butt"/>
<line x1="417" y1="362.4" x2="344" y2="417" stroke="#333" stroke-width="0.8" stroke-linecap="butt"/>
<line x1="404.1" y1="363.2" x2="402.2" y2="360.4" stroke="#000" stroke-width="2.2" stroke-linecap="round"/>
<line x1="409.1" y1="363.2" x2="411.4" y2="360.8" stroke="#000" stroke-width="2.2" stroke-linecap="round"/>
<ellipse cx="406.5" cy="366.4" rx="3.7" ry="3.7" stroke="#000" stroke-width="3.1" fill="#fff"/>
<line x1="413.1" y1="369.8" x2="427.7" y2="380" stroke="#222" stroke-width="0.8" stroke-linecap="butt"/>
<path d="M374.4,393.4 L393.8,374.2" stroke="#000" stroke-width="9.2" fill="none" stroke-linejoin="round" stroke-linecap="round"/>
<path d="M374.4,393.4 L393.8,374.2" stroke="#fff" stroke-width="5.2" fill="none" stroke-linejoin="round" stroke-linecap="round"/>
<ellipse cx="374.6" cy="393.2" rx="3.4" ry="3.4" stroke="#000" stroke-width="1.7" fill="#fff"/>
<ellipse cx="374.6" cy="393.2" rx="1.4" ry="1.4" stroke="#000" stroke-width="1.2" fill="#fff"/>
<line x1="384" y1="380.6" x2="391" y2="374.2" stroke="#888" stroke-width="0.7" stroke-linecap="butt"/>
<line x1="389.2" y1="386.6" x2="413.1" y2="396.6" stroke="#222" stroke-width="0.8" stroke-linecap="butt"/>
<line x1="357.2" y1="399.2" x2="355.3" y2="396.4" stroke="#000" stroke-width="2.2" stroke-linecap="round"/>
<line x1="362.2" y1="399.2" x2="364.5" y2="396.8" stroke="#000" stroke-width="2.2" stroke-linecap="round"/>
<ellipse cx="359.6" cy="402.4" rx="3.7" ry="3.7" stroke="#000" stroke-width="3.1" fill="#fff"/>
<line x1="364" y1="406.5" x2="389.2" y2="424.2" stroke="#222" stroke-width="0.8" stroke-linecap="butt"/>
<path d="M319,423.4 L319,429.8 L319,429.8 L319.08,430.39 L319.32,430.98 L319.72,431.56 L320.28,432.13 L320.99,432.67 L321.84,433.2 L322.83,433.7 L323.96,434.17 L325.21,434.61 L325.21,430.01 L326.57,430.41 L328.04,430.77 L329.6,431.09 L331.24,431.36 L332.95,431.59 L334.71,431.77 L334.71,436.37 L336.52,436.5 L338.35,436.57 L340.2,436.6 L342.05,436.57 L343.88,436.5 L345.69,436.37 L347.45,436.19 L347.45,431.59 L349.16,431.36 L350.8,431.09 L352.36,430.77 L353.83,430.41 L355.19,430.01 L356.44,429.57 L356.44,434.17 L357.57,433.7 L358.56,433.2 L359.41,432.67 L360.12,432.13 L360.68,431.56 L361.08,430.98 L361.32,430.39 L361.4,429.8 L361.4,423.4" stroke="#000" stroke-width="1.9" fill="#fff" stroke-linejoin="miter" stroke-linecap="round"/>
<ellipse cx="340.2" cy="423.4" rx="21.2" ry="6.8" stroke="#000" stroke-width="1.9" fill="#fff"/>
<path d="M335.7,422.4 L335.7,410.2 Q340.2,407 344.7,410.2 L344.7,422.4 Q340.2,425.2 335.7,422.4 Z" stroke="#000" stroke-width="1.9" fill="#fff" stroke-linejoin="round" stroke-linecap="round"/>
<path d="M337.6,409.8 L337.6,407.4 Q340.2,405.6 342.8,407.4 L342.8,409.8 Q340.2,411 337.6,409.8" stroke="#000" stroke-width="1.7" fill="#fff" stroke-linejoin="round" stroke-linecap="round"/>
<line x1="349.4" y1="426.4" x2="366.7" y2="445.5" stroke="#222" stroke-width="0.8" stroke-linecap="butt"/>
<path d="M849.2,429.8 L849.2,436.2 L849.2,436.2 L849.28,436.79 L849.52,437.38 L849.92,437.96 L850.48,438.53 L851.19,439.07 L852.04,439.6 L853.03,440.1 L854.16,440.57 L855.41,441.01 L855.41,436.41 L856.77,436.81 L858.24,437.17 L859.8,437.49 L861.44,437.76 L863.15,437.99 L864.91,438.17 L864.91,442.77 L866.72,442.9 L868.55,442.97 L870.4,443 L872.25,442.97 L874.08,442.9 L875.89,442.77 L877.65,442.59 L877.65,437.99 L879.36,437.76 L881,437.49 L882.56,437.17 L884.03,436.81 L885.39,436.41 L886.64,435.97 L886.64,440.57 L887.77,440.1 L888.76,439.6 L889.61,439.07 L890.32,438.53 L890.88,437.96 L891.28,437.38 L891.52,436.79 L891.6,436.2 L891.6,429.8" stroke="#000" stroke-width="1.9" fill="#fff" stroke-linejoin="miter" stroke-linecap="round"/>
<ellipse cx="870.4" cy="429.8" rx="21.2" ry="6.8" stroke="#000" stroke-width="1.9" fill="#fff"/>
<path d="M865.4,422.4 L856.8,421 Q855.4,423.4 856.6,426.2 L865.4,427.4" stroke="#000" stroke-width="1.8" fill="#fff" stroke-linejoin="round" stroke-linecap="round"/>
<path d="M865.9,428.8 L865.9,416.6 Q870.4,413.4 874.9,416.6 L874.9,428.8 Q870.4,431.6 865.9,428.8 Z" stroke="#000" stroke-width="1.9" fill="#fff" stroke-linejoin="round" stroke-linecap="round"/>
<path d="M867.8,416.2 L867.8,413.8 Q870.4,412 873,413.8 L873,416.2 Q870.4,417.4 867.8,416.2" stroke="#000" stroke-width="1.7" fill="#fff" stroke-linejoin="round" stroke-linecap="round"/>
<line x1="879.5" y1="396.9" x2="871.8" y2="417.4" stroke="#222" stroke-width="0.8" stroke-linecap="butt"/>
<path d="M236,672.9 L391,698.9 L404,691.4 L550,718.2 L665.5,740.3 L739.6,767.1 L738.6,770.5 L735,771.1 L609,747.3 L545,781.9 L680.8,810.5 L679.6,813.5 L413.5,771.7 L301.2,749.1 L330.6,730.9 L218.9,707.5 L245,689.3 L218.5,682.5 L219.5,680.5 Z" stroke="#000" stroke-width="1.5" fill="#fff" stroke-linejoin="round" stroke-linecap="round"/>
<path d="M236,671 L391,697 L404,689.5 L550,716.3 L665.5,738.4 L739.6,765.2 L738.6,768.6 L735,769.2 L609,745.4 L545,780 L680.8,808.6 L679.6,811.6 L413.5,769.8 L301.2,747.2 L330.6,729 L218.9,705.6 L245,687.4 L218.5,680.6 L219.5,678.6 Z" stroke="#000" stroke-width="1.7" fill="#fff" stroke-linejoin="round" stroke-linecap="round"/>
<line x1="242.8" y1="728.3" x2="269.8" y2="710.2" stroke="#222" stroke-width="0.8" stroke-linecap="butt"/>
<path d="M146,352.4 C144.55,351.81 125.97,344.32 124.3,343.6 C122.63,342.88 121.13,341.73 120.9,341.6" stroke="#000" stroke-width="1.9" fill="none" stroke-linejoin="round" stroke-linecap="round"/>
<path d="M120.9,341.6 C120.5,340.79 117.91,334.72 116.9,333.5 C115.89,332.28 113.36,330.01 110.8,329.4 C108.24,328.79 94.6,326.86 91.3,327.4 C88,327.94 79.42,333.59 77.8,334.8 C76.18,336.01 75.1,338.02 75.1,339.5 C75.1,340.98 76.85,347.11 77.8,349.6 C78.75,352.09 83.92,362.92 84.6,364.4" stroke="#000" stroke-width="1.9" fill="none" stroke-linejoin="round" stroke-linecap="round"/>
<path d="M84.6,364.4 C87.56,368.34 92.98,375.74 99.4,384.1 C105.82,392.46 110.54,397.82 116.7,406.2 C122.86,414.58 126.26,418.6 130.2,426 C134.14,433.4 134.72,437 136.4,443.2 C138.08,449.4 136.92,452.76 138.6,457 C140.28,461.24 140.6,461.2 144.8,464.4 C149,467.6 155.16,469.08 159.6,473 C164.04,476.92 165.28,479.8 167,484 C168.72,488.2 168.7,484.62 168.2,494 C167.7,503.38 165,521.56 164.5,530.9 C164,540.24 164.22,535.78 165.7,540.7 C167.18,545.62 168.7,550.06 171.9,555.5 C175.1,560.94 175.3,564.2 181.7,567.9 C188.1,571.6 197.72,571.54 203.9,574 C210.08,576.46 209.64,576.5 212.6,580.2 C215.56,583.9 216,588.8 218.7,592.5 C221.4,596.2 222.16,596.72 226.1,598.7 C230.04,600.68 231,600.68 238.4,602.4 C245.8,604.12 253.24,605.34 263.1,607.3 C272.96,609.26 281.8,610.72 287.7,612.2 C293.6,613.68 291.62,614.2 292.6,614.7" stroke="#000" stroke-width="1.9" fill="none" stroke-linejoin="round" stroke-linecap="round"/>
<path d="M245.8,543.2 C246.5,544.08 243.13,538.13 250,548.5 C256.87,558.87 279.9,594.37 287,605.4 C294.1,616.43 289.53,610.43 292.6,614.7 C295.67,618.97 302.32,626.87 305.4,631 C308.48,635.13 308.48,637.6 311.1,639.5 C313.72,641.4 302.95,638.42 321.1,642.4 C339.25,646.38 386.85,656.38 420,663.4 C453.15,670.42 494.8,679.28 520,684.5 C545.2,689.72 553.23,691.87 571.2,694.7 C589.17,697.53 607.58,699.7 627.8,701.5 C648.02,703.3 679.93,705.05 692.5,705.5 C705.07,705.95 700.52,705.55 703.2,704.2 C705.88,702.85 707.92,699.88 708.6,697.4 C709.28,694.92 713.73,699.03 707.3,689.3 C700.87,679.57 682.35,655.62 670,639 C657.65,622.38 641.13,600.07 633.2,589.6 C625.27,579.13 624.2,578.43 622.4,576.2" stroke="#000" stroke-width="1.9" fill="none" stroke-linejoin="round" stroke-linecap="round"/>
<path d="M169.4,548 C171.67,549.05 173.13,551.4 183,554.3 C192.87,557.2 217.72,562.73 228.6,565.4 C239.48,568.07 243.38,568.25 248.3,570.3 C253.22,572.35 253.17,572.75 258.1,577.7 C263.03,582.65 274.6,596.28 277.9,600" stroke="#000" stroke-width="1.6" fill="none" stroke-linejoin="round" stroke-linecap="round"/>
<path d="M180.7,366.8 C183.42,368.04 189.86,370.28 194.3,373 C198.74,375.72 199.44,376.22 202.9,380.4 C206.36,384.58 208.64,387.74 211.6,393.9 C214.56,400.06 215.74,405.78 217.7,411.2 C219.66,416.62 220.04,418.14 221.4,421 C222.76,423.86 223.88,424.6 224.5,425.5" stroke="#000" stroke-width="1.9" fill="none" stroke-linejoin="round" stroke-linecap="round"/>
<path d="M276.9,435.8 C278.54,436.55 288.94,440.16 291,442.2 C293.06,444.24 288.71,449.13 294.6,453.3 C300.49,457.47 334.31,475.89 341.5,477.9 C348.69,479.91 352.18,470.36 356.2,470.5 C360.22,470.64 365.93,474.49 376,479.1 C386.07,483.71 433.59,505.98 442.5,510 C451.41,514.02 449.53,513.24 452.4,513.6 C455.27,513.96 461.55,513.54 467.1,513.1 C472.65,512.66 489.86,510.69 500,509.8 C510.14,508.91 546.37,505.66 554,505.5 C561.63,505.34 558.43,506.73 565.4,508.4 C572.37,510.07 607.4,518.14 613.7,519.8 C620,521.46 616.74,521.95 619.4,522.6 C622.06,523.25 631.86,524.07 636.5,525.4 C641.14,526.73 654.56,532 659.2,534 C663.84,536 672.97,540.52 676.3,542.5 C679.62,544.48 681.73,544.86 687.7,551 C693.67,557.14 719.54,585.98 727.5,595.1 C735.46,604.22 750.77,623.06 755.9,629.2 C761.03,635.34 769.23,644.46 771.5,647.7 C773.77,650.94 775.2,655.08 775.4,657 C775.6,658.92 774.37,662.92 773.2,664.2 C772.03,665.48 773.05,668.86 765.4,668 C757.75,667.14 717.67,659.05 707.6,656.8 C697.53,654.55 682.43,649.64 679.1,648.7" stroke="#000" stroke-width="1.9" fill="none" stroke-linejoin="round" stroke-linecap="round"/>
<path d="M270,513.6 C272.63,511.96 284.77,503.93 289.7,501.3 C294.63,498.67 303.55,495.05 307,493.9 C310.45,492.75 312.65,492.37 315.6,492.7 C318.55,493.03 325.65,494.6 329.1,496.4 C332.55,498.2 338.54,504.56 341.5,506.2 C344.46,507.84 347.03,507.87 351.3,508.7 C355.57,509.53 368.9,511.57 373.5,512.4 C378.1,513.23 383.17,513.42 385.8,514.9 C388.43,516.38 390.89,521.7 393.2,523.5 C395.51,525.3 399.81,528.07 403.1,528.4 C406.39,528.73 413.3,527.31 417.9,526 C422.5,524.69 432.84,520.25 437.6,518.6 C442.36,516.95 451.47,514.27 453.6,513.6" stroke="#000" stroke-width="1.4" fill="none" stroke-linejoin="round" stroke-linecap="round"/>
<path d="M376,534.6 C377.44,534.88 384.86,536.43 388.3,537 C391.74,537.57 402.05,539.93 405.5,539.5 C408.95,539.07 414.83,534.47 417.9,533.3 C420.97,532.13 424.33,528.72 431.8,529.5 C439.27,530.28 471.69,538.14 481.9,540 C492.11,541.86 513.3,543.62 519.3,545.4 C525.3,547.18 529.58,553.91 533.3,555.3 C537.02,556.69 548.42,557.52 551.2,557.3 C553.98,557.08 551.07,552 557.1,553.4 C563.13,554.8 595.24,566.29 602.9,569.3 C610.56,572.31 619.08,576.64 622.8,579.2 C626.52,581.76 633.4,589.8 634.8,591.2" stroke="#000" stroke-width="1.4" fill="none" stroke-linejoin="round" stroke-linecap="round"/>
<path d="M180.7,390.2 C177.42,391.65 166.73,397.87 161,398.9 C155.27,399.93 149.78,395.58 146.3,396.4 C142.82,397.22 141.95,401.33 140.1,403.8 C138.25,406.27 135.82,407.92 135.2,411.2 C134.58,414.48 134.77,418.98 136.4,423.5 C138.03,428.02 141.3,433.38 145,438.3 C148.7,443.22 155.1,448.48 158.6,453 C162.1,457.52 164.37,461.28 166,465.4 C167.63,469.52 168,475.65 168.4,477.7" stroke="#000" stroke-width="1.5" fill="none" stroke-linejoin="round" stroke-linecap="round"/>
<path d="M147.4,352 L141.8,369.5 L141.84,371.72 L142.61,373.04 L143.91,374.38 L145.68,375.71 L147.86,376.98 L150.39,378.15 L153.17,379.17 L156.1,380.02 L159.08,380.65 L162.02,381.05 L164.8,381.2 L167.32,381.11 L169.51,380.76 L171.29,380.18 L172.58,379.39 L180.2,360 Z" stroke="#000" stroke-width="1.6" fill="#d8d8d8" stroke-linejoin="round" stroke-linecap="round"/>
<path d="M178.43,359.78 L177.86,360.27 L177.13,360.69 L176.25,361.04 L175.22,361.33 L174.07,361.55 L172.8,361.69 L171.42,361.75 L169.96,361.74 L168.43,361.65 L166.84,361.49 L165.21,361.25 L163.56,360.94 L161.91,360.56 L160.27,360.12 L158.67,359.62 L157.12,359.07 L155.64,358.46 L154.24,357.82 L152.95,357.15 L151.76,356.44 L150.71,355.72 L149.79,354.99 L149.02,354.26 L148.41,353.53 L147.96,352.81 L147.68,352.12" stroke="#444" stroke-width="0.8" fill="none" stroke-linejoin="round" stroke-linecap="round"/>
<path d="M177.79,361.92 L177.22,362.41 L176.49,362.83 L175.61,363.18 L174.58,363.47 L173.43,363.69 L172.16,363.83 L170.78,363.89 L169.32,363.88 L167.79,363.79 L166.2,363.63 L164.57,363.39 L162.92,363.08 L161.27,362.7 L159.63,362.26 L158.03,361.76 L156.48,361.21 L155,360.6 L153.6,359.96 L152.31,359.29 L151.12,358.58 L150.07,357.86 L149.15,357.13 L148.38,356.4 L147.77,355.67 L147.32,354.95 L147.04,354.26" stroke="#444" stroke-width="0.8" fill="none" stroke-linejoin="round" stroke-linecap="round"/>
<path d="M177.15,364.06 L176.58,364.55 L175.85,364.97 L174.97,365.32 L173.94,365.61 L172.79,365.83 L171.52,365.97 L170.14,366.03 L168.68,366.02 L167.15,365.93 L165.56,365.77 L163.93,365.53 L162.28,365.22 L160.63,364.84 L158.99,364.4 L157.39,363.9 L155.84,363.35 L154.36,362.74 L152.96,362.1 L151.67,361.43 L150.48,360.72 L149.43,360 L148.51,359.27 L147.74,358.54 L147.13,357.81 L146.68,357.09 L146.4,356.4" stroke="#444" stroke-width="0.8" fill="none" stroke-linejoin="round" stroke-linecap="round"/>
<path d="M176.51,366.2 L175.94,366.69 L175.21,367.11 L174.33,367.46 L173.3,367.75 L172.15,367.97 L170.88,368.11 L169.5,368.17 L168.04,368.16 L166.51,368.07 L164.92,367.91 L163.29,367.67 L161.64,367.36 L159.99,366.98 L158.35,366.54 L156.75,366.04 L155.2,365.49 L153.72,364.88 L152.32,364.24 L151.03,363.57 L149.84,362.86 L148.79,362.14 L147.87,361.41 L147.1,360.68 L146.49,359.95 L146.04,359.23 L145.76,358.54" stroke="#444" stroke-width="0.8" fill="none" stroke-linejoin="round" stroke-linecap="round"/>
<path d="M175.87,368.34 L175.3,368.83 L174.57,369.25 L173.69,369.6 L172.66,369.89 L171.51,370.11 L170.24,370.25 L168.86,370.31 L167.4,370.3 L165.87,370.21 L164.28,370.05 L162.65,369.81 L161,369.5 L159.35,369.12 L157.71,368.68 L156.11,368.18 L154.56,367.63 L153.08,367.02 L151.68,366.38 L150.39,365.71 L149.2,365 L148.15,364.28 L147.23,363.55 L146.46,362.82 L145.85,362.09 L145.4,361.37 L145.12,360.68" stroke="#444" stroke-width="0.8" fill="none" stroke-linejoin="round" stroke-linecap="round"/>
<path d="M175.23,370.48 L174.66,370.97 L173.93,371.39 L173.05,371.74 L172.02,372.03 L170.87,372.25 L169.6,372.39 L168.22,372.45 L166.76,372.44 L165.23,372.35 L163.64,372.19 L162.01,371.95 L160.36,371.64 L158.71,371.26 L157.07,370.82 L155.47,370.32 L153.92,369.77 L152.44,369.16 L151.04,368.52 L149.75,367.85 L148.56,367.14 L147.51,366.42 L146.59,365.69 L145.82,364.96 L145.21,364.23 L144.76,363.51 L144.48,362.82" stroke="#444" stroke-width="0.8" fill="none" stroke-linejoin="round" stroke-linecap="round"/>
<path d="M174.59,372.62 L174.02,373.11 L173.29,373.53 L172.41,373.88 L171.38,374.17 L170.23,374.39 L168.96,374.53 L167.58,374.59 L166.12,374.58 L164.59,374.49 L163,374.33 L161.37,374.09 L159.72,373.78 L158.07,373.4 L156.43,372.96 L154.83,372.46 L153.28,371.91 L151.8,371.3 L150.4,370.66 L149.11,369.99 L147.92,369.28 L146.87,368.56 L145.95,367.83 L145.18,367.1 L144.57,366.37 L144.12,365.65 L143.84,364.96" stroke="#444" stroke-width="0.8" fill="none" stroke-linejoin="round" stroke-linecap="round"/>
<path d="M173.95,374.76 L173.38,375.25 L172.65,375.67 L171.77,376.02 L170.74,376.31 L169.59,376.53 L168.32,376.67 L166.94,376.73 L165.48,376.72 L163.95,376.63 L162.36,376.47 L160.73,376.23 L159.08,375.92 L157.43,375.54 L155.79,375.1 L154.19,374.6 L152.64,374.05 L151.16,373.44 L149.76,372.8 L148.47,372.13 L147.28,371.42 L146.23,370.7 L145.31,369.97 L144.54,369.24 L143.93,368.51 L143.48,367.79 L143.2,367.1" stroke="#444" stroke-width="0.8" fill="none" stroke-linejoin="round" stroke-linecap="round"/>
<path d="M173.31,376.9 L172.74,377.39 L172.01,377.81 L171.13,378.16 L170.1,378.45 L168.95,378.67 L167.68,378.81 L166.3,378.87 L164.84,378.86 L163.31,378.77 L161.72,378.61 L160.09,378.37 L158.44,378.06 L156.79,377.68 L155.15,377.24 L153.55,376.74 L152,376.19 L150.52,375.58 L149.12,374.94 L147.83,374.27 L146.64,373.56 L145.59,372.84 L144.67,372.11 L143.9,371.38 L143.29,370.65 L142.84,369.93 L142.56,369.24" stroke="#444" stroke-width="0.8" fill="none" stroke-linejoin="round" stroke-linecap="round"/>
<path d="M174.72,379.86 L174.7,380.65 L174.47,381.4 L174.05,382.1 L173.43,382.73 L172.62,383.29 L171.63,383.77 L170.47,384.17 L169.16,384.48 L167.71,384.71 L166.13,384.84 L164.45,384.87 L162.68,384.81 L160.84,384.66 L158.95,384.41 L157.04,384.08 L155.13,383.66 L153.22,383.16 L151.36,382.58 L149.56,381.93 L147.83,381.22 L146.2,380.46 L144.69,379.65 L143.31,378.8 L142.08,377.93 L141.02,377.04 L140.12,376.15 L139.42,375.26 L138.9,374.38 L138.58,373.52 L138.46,372.69 L138.55,371.91 L138.84,371.17" stroke="#000" stroke-width="3.0" fill="none" stroke-linejoin="round" stroke-linecap="round"/>
<path d="M176.68,385.63 L176.15,386.43 L175.37,387.15 L174.38,387.79 L173.17,388.34 L171.76,388.78 L170.16,389.12 L168.4,389.36 L166.5,389.48 L164.47,389.49 L162.34,389.39 L160.14,389.17 L157.88,388.85 L155.6,388.42 L153.31,387.89 L151.06,387.27 L148.85,386.56 L146.72,385.77 L144.69,384.91 L142.79,383.99 L141.03,383.03 L139.44,382.02 L138.03,380.98 L136.82,379.93 L135.82,378.88 L135.05,377.83 L134.51,376.8 L134.22,375.81" stroke="#000" stroke-width="1.2" fill="none" stroke-linejoin="round" stroke-linecap="round"/>
<path d="M178.28,390.01 L177.43,390.86 L176.32,391.62 L174.96,392.26 L173.37,392.79 L171.55,393.2 L169.54,393.49 L167.36,393.64 L165.03,393.66 L162.58,393.55 L160.04,393.31 L157.44,392.94 L154.81,392.45 L152.18,391.85 L149.57,391.13 L147.03,390.3 L144.58,389.39 L142.25,388.4 L140.07,387.33 L138.06,386.21 L136.24,385.04 L134.65,383.84 L133.28,382.62 L132.17,381.41 L131.33,380.2 L130.76,379.02" stroke="#555" stroke-width="0.7" fill="none" stroke-linejoin="round" stroke-linecap="round"/>
<ellipse cx="164" cy="352" rx="16.6" ry="6.2" stroke="#000" stroke-width="2.6" fill="#fff" transform="rotate(14 164 352)"/>
<ellipse cx="165" cy="351.8" rx="12" ry="4.2" stroke="#000" stroke-width="1.3" fill="#fff" transform="rotate(14 165 351.8)"/>
<ellipse cx="97.6" cy="339.2" rx="5" ry="1.9" stroke="#000" stroke-width="1.6" fill="#fff" transform="rotate(6 97.6 339.2)"/>
<ellipse cx="106.8" cy="334.4" rx="2.6" ry="1.5" stroke="#000" stroke-width="0.5" fill="#000"/>
<path d="M250,429.6 L274.8,425.3 L274.3,435.6 L274.35,434.5 L273.61,435.57 L272.34,436.57 L270.56,437.46 L268.32,438.23 L265.66,438.86 L262.65,439.33 L259.35,439.63 L255.84,439.77 Z" stroke="#000" stroke-width="1.2" fill="#bbb" stroke-linejoin="round" stroke-linecap="round"/>
<path d="M274.9,426.15 L274.62,426.92 L274.05,427.67 L273.22,428.37 L272.12,429.03 L270.78,429.63 L269.2,430.17 L267.4,430.65 L265.41,431.06 L263.24,431.38 L260.92,431.63 L258.48,431.8 L255.93,431.88 L253.31,431.88" stroke="#444" stroke-width="0.6" fill="none" stroke-linejoin="round" stroke-linecap="round"/>
<path d="M274.9,427.65 L274.62,428.42 L274.05,429.17 L273.22,429.87 L272.12,430.53 L270.78,431.13 L269.2,431.67 L267.4,432.15 L265.41,432.56 L263.24,432.88 L260.92,433.13 L258.48,433.3 L255.93,433.38 L253.31,433.38" stroke="#444" stroke-width="0.6" fill="none" stroke-linejoin="round" stroke-linecap="round"/>
<path d="M274.9,429.15 L274.62,429.92 L274.05,430.67 L273.22,431.37 L272.12,432.03 L270.78,432.63 L269.2,433.17 L267.4,433.65 L265.41,434.06 L263.24,434.38 L260.92,434.63 L258.48,434.8 L255.93,434.88 L253.31,434.88" stroke="#444" stroke-width="0.6" fill="none" stroke-linejoin="round" stroke-linecap="round"/>
<path d="M274.9,430.65 L274.62,431.42 L274.05,432.17 L273.22,432.87 L272.12,433.53 L270.78,434.13 L269.2,434.67 L267.4,435.15 L265.41,435.56 L263.24,435.88 L260.92,436.13 L258.48,436.3 L255.93,436.38 L253.31,436.38" stroke="#444" stroke-width="0.6" fill="none" stroke-linejoin="round" stroke-linecap="round"/>
<path d="M274.9,432.15 L274.62,432.92 L274.05,433.67 L273.22,434.37 L272.12,435.03 L270.78,435.63 L269.2,436.17 L267.4,436.65 L265.41,437.06 L263.24,437.38 L260.92,437.63 L258.48,437.8 L255.93,437.88 L253.31,437.88" stroke="#444" stroke-width="0.6" fill="none" stroke-linejoin="round" stroke-linecap="round"/>
<path d="M274.9,433.65 L274.62,434.42 L274.05,435.17 L273.22,435.87 L272.12,436.53 L270.78,437.13 L269.2,437.67 L267.4,438.15 L265.41,438.56 L263.24,438.88 L260.92,439.13 L258.48,439.3 L255.93,439.38 L253.31,439.38" stroke="#444" stroke-width="0.6" fill="none" stroke-linejoin="round" stroke-linecap="round"/>
<path d="M276.77,435.2 L276.94,436.11 L276.83,437.01 L276.44,437.88 L275.77,438.71 L274.82,439.5 L273.62,440.23 L272.17,440.9 L270.48,441.5 L268.59,442.03 L266.5,442.48 L264.24,442.84 L261.83,443.11 L259.31,443.28 L256.69,443.36 L254.02,443.35 L251.31,443.24" stroke="#000" stroke-width="1.6" fill="none" stroke-linejoin="round" stroke-linecap="round"/>
<path d="M276.86,438.51 L276.94,439.44 L276.72,440.34 L276.2,441.22 L275.4,442.05 L274.31,442.83 L272.96,443.56 L271.35,444.21 L269.51,444.79 L267.46,445.29 L265.22,445.69 L262.82,446.01 L260.28,446.23 L257.64,446.35 L254.91,446.36" stroke="#000" stroke-width="1.4" fill="none" stroke-linejoin="round" stroke-linecap="round"/>
<ellipse cx="249" cy="422.2" rx="25.8" ry="7.7" stroke="#000" stroke-width="2.4" fill="#fff" transform="rotate(4 249 422.2)"/>
<ellipse cx="249.2" cy="422.4" rx="22.6" ry="6" stroke="#000" stroke-width="1.1" fill="#fff" transform="rotate(4 249.2 422.4)"/>
<path d="M272.31,426.33 L271.69,426.96 L270.81,427.55 L269.68,428.09 L268.32,428.58 L266.74,429.02 L264.95,429.39 L262.99,429.69 L260.86,429.93 L258.6,430.09 L256.23,430.18 L253.78,430.19 L251.28,430.12 L248.75,429.98 L246.23,429.77 L243.75,429.49 L241.32,429.13 L238.99,428.72 L236.77,428.24 L234.7,427.71 L232.79,427.14 L231.08,426.52 L229.57,425.87 L228.29,425.2 L227.25,424.5 L226.46,423.79 L225.94,423.09" stroke="#666" stroke-width="0.7" fill="none" stroke-linejoin="round" stroke-linecap="round"/>
<ellipse cx="213.9" cy="434.4" rx="9.6" ry="2.6" stroke="#000" stroke-width="1.9" fill="#fff" transform="rotate(-6 213.9 434.4)"/>
<line x1="258.6" y1="416.6" x2="258.4" y2="428.6" stroke="#555" stroke-width="0.7" stroke-linecap="butt"/>
<line x1="245.6" y1="418" x2="245" y2="427.4" stroke="#333" stroke-width="0.8" stroke-linecap="butt"/>
<path d="M79.8,337.5 L82,348 L96,368 L113,390 L128,412" stroke="#666" stroke-width="0.65" fill="none" stroke-linejoin="round" stroke-linecap="round"/>
<path d="M85.2,348.3 L137.8,406.3" stroke="#666" stroke-width="0.65" fill="none" stroke-linejoin="round" stroke-linecap="round"/>
<path d="M96,359.1 L140.5,399.5" stroke="#666" stroke-width="0.65" fill="none" stroke-linejoin="round" stroke-linecap="round"/>
<path d="M98.7,359.1 L148.6,390.1" stroke="#666" stroke-width="0.65" fill="none" stroke-linejoin="round" stroke-linecap="round"/>
<path d="M105.4,358.4 L146,386" stroke="#666" stroke-width="0.65" fill="none" stroke-linejoin="round" stroke-linecap="round"/>
<path d="M105.4,369.9 L133.7,414.3" stroke="#666" stroke-width="0.65" fill="none" stroke-linejoin="round" stroke-linecap="round"/>
<path d="M112,360 L150,384" stroke="#666" stroke-width="0.65" fill="none" stroke-linejoin="round" stroke-linecap="round"/>
<path d="M128,412 L136,410" stroke="#666" stroke-width="0.65" fill="none" stroke-linejoin="round" stroke-linecap="round"/>
<path d="M120,401 L137,404" stroke="#666" stroke-width="0.65" fill="none" stroke-linejoin="round" stroke-linecap="round"/>
<path d="M87,343 L92,350 L104,354.5 L118,352 L125.3,347" stroke="#666" stroke-width="0.65" fill="none" stroke-linejoin="round" stroke-linecap="round"/>
<path d="M88,347 L96,356 L109.3,360.5 L121,357 L127.8,351" stroke="#666" stroke-width="0.65" fill="none" stroke-linejoin="round" stroke-linecap="round"/>
<path d="M85,340 L90,345 L104,349 L116,346 L121,341" stroke="#666" stroke-width="0.65" fill="none" stroke-linejoin="round" stroke-linecap="round"/>
<path d="M91,340 L92,352" stroke="#666" stroke-width="0.65" fill="none" stroke-linejoin="round" stroke-linecap="round"/>
<path d="M95,342 L97,356" stroke="#666" stroke-width="0.65" fill="none" stroke-linejoin="round" stroke-linecap="round"/>
<path d="M100,343 L102,358.6" stroke="#666" stroke-width="0.65" fill="none" stroke-linejoin="round" stroke-linecap="round"/>
<path d="M105,343 L107,360" stroke="#666" stroke-width="0.65" fill="none" stroke-linejoin="round" stroke-linecap="round"/>
<path d="M110,342.6 L112,360" stroke="#666" stroke-width="0.65" fill="none" stroke-linejoin="round" stroke-linecap="round"/>
<path d="M114,341 L117,358.6" stroke="#666" stroke-width="0.65" fill="none" stroke-linejoin="round" stroke-linecap="round"/>
<path d="M118,339 L122,356" stroke="#666" stroke-width="0.65" fill="none" stroke-linejoin="round" stroke-linecap="round"/>
<path d="M121,337 L126.4,352" stroke="#666" stroke-width="0.65" fill="none" stroke-linejoin="round" stroke-linecap="round"/>
<path d="M84,338 L88,342 L86,347" stroke="#666" stroke-width="0.65" fill="none" stroke-linejoin="round" stroke-linecap="round"/>
<path d="M126.3,361.1 L124,365 L128,372 L138,380" stroke="#666" stroke-width="0.65" fill="none" stroke-linejoin="round" stroke-linecap="round"/>
<path d="M129.7,368.5 L134,376 L146,384 L160,388 L172,387 L178,384" stroke="#666" stroke-width="0.65" fill="none" stroke-linejoin="round" stroke-linecap="round"/>
<path d="M182,372 L190,378 L193,386 L188,392" stroke="#666" stroke-width="0.65" fill="none" stroke-linejoin="round" stroke-linecap="round"/>
<path d="M178,370 L186,377 L188,385" stroke="#666" stroke-width="0.65" fill="none" stroke-linejoin="round" stroke-linecap="round"/>
<path d="M150,390 L156,394 L160,392" stroke="#666" stroke-width="0.65" fill="none" stroke-linejoin="round" stroke-linecap="round"/>
<path d="M140.5,399.5 L146,396 L152,397 L158,393 L166,396" stroke="#666" stroke-width="0.65" fill="none" stroke-linejoin="round" stroke-linecap="round"/>
<path d="M145,400 L150,404 L160,401 L161.4,398.2" stroke="#666" stroke-width="0.65" fill="none" stroke-linejoin="round" stroke-linecap="round"/>
<path d="M132,362 C131.83,363.33 129.67,367 131,370 C132.33,373 135.83,377.33 140,380 C144.17,382.67 151,385 156,386 C161,387 166.5,386.67 170,386 C173.5,385.33 175.83,382.67 177,382" stroke="#555" stroke-width="0.6" fill="none" stroke-linejoin="round" stroke-linecap="round"/>
<path d="M136,360 C135.83,361.33 133.83,365.17 135,368 C136.17,370.83 139.33,374.57 143,377 C146.67,379.43 152.67,381.67 157,382.6 C161.33,383.53 166,383.2 169,382.6 C172,382 174,379.6 175,379" stroke="#555" stroke-width="0.6" fill="none" stroke-linejoin="round" stroke-linecap="round"/>
<line x1="126.3" y1="361.1" x2="132.4" y2="359.1" stroke="#000" stroke-width="1.8" stroke-linecap="round"/>
<line x1="161.4" y1="398.2" x2="179.6" y2="390.1" stroke="#000" stroke-width="1.9" stroke-linecap="round"/>
<path d="M197.92,392.01 C198.35,393.15 199.21,395.73 200.5,398.87 C201.78,402.02 203.64,407.31 205.65,410.89 C207.65,414.46 209.93,417.98 212.51,420.32 C215.08,422.67 219.66,424.18 221.09,424.96" stroke="#000" stroke-width="1.8" fill="none" stroke-linejoin="round" stroke-linecap="round"/>
<path d="M222.8,424.96 C224.81,425.61 230.53,427.24 234.81,428.9 C239.1,430.56 245.4,432.48 248.54,434.91 C251.69,437.34 251.69,440.34 253.69,443.49 C255.69,446.63 257.41,450.92 260.55,453.78 C263.7,456.64 265.16,456.93 272.56,460.65 C279.97,464.36 299.59,473.51 304.99,476.09" stroke="#000" stroke-width="1.9" fill="none" stroke-linejoin="round" stroke-linecap="round"/>
<path d="M226.24,462.36 L227.95,491.53 L229.67,520.01" stroke="#666" stroke-width="0.65" fill="none" stroke-linejoin="round" stroke-linecap="round"/>
<path d="M238.25,476.09 L239.1,520.01" stroke="#666" stroke-width="0.65" fill="none" stroke-linejoin="round" stroke-linecap="round"/>
<path d="M251.97,482.95 L247.68,500.11 L245.11,520.01" stroke="#666" stroke-width="0.65" fill="none" stroke-linejoin="round" stroke-linecap="round"/>
<path d="M258.84,476.09 L255.4,500.11 L253.69,520.01" stroke="#666" stroke-width="0.65" fill="none" stroke-linejoin="round" stroke-linecap="round"/>
<path d="M221.09,455.5 L226.24,462.36 L234.81,460.65 L245.11,453.78" stroke="#666" stroke-width="0.65" fill="none" stroke-linejoin="round" stroke-linecap="round"/>
<path d="M234.81,460.65 L238.25,476.09 L251.97,482.95 L258.84,476.09 L270.85,465.79" stroke="#666" stroke-width="0.65" fill="none" stroke-linejoin="round" stroke-linecap="round"/>
<path d="M176.48,438.34 L185.05,445.2 L205.65,443.49 L214.22,440.91 L229.67,440.05 L234.81,445.2 L226.24,457.21 L226.24,462.36" stroke="#666" stroke-width="0.65" fill="none" stroke-linejoin="round" stroke-linecap="round"/>
<path d="M181.62,436.62 L188.49,441.77 L205.65,440.05 L221.09,431.48" stroke="#666" stroke-width="0.65" fill="none" stroke-linejoin="round" stroke-linecap="round"/>
<path d="M229.67,440.05 L234.81,431.48 L248.54,438.34" stroke="#666" stroke-width="0.65" fill="none" stroke-linejoin="round" stroke-linecap="round"/>
<path d="M234.81,445.2 L245.11,448.63 L251.97,445.2" stroke="#666" stroke-width="0.65" fill="none" stroke-linejoin="round" stroke-linecap="round"/>
<path d="M205.65,443.49 L227.95,453.78" stroke="#666" stroke-width="0.65" fill="none" stroke-linejoin="round" stroke-linecap="round"/>
<path d="M214.22,440.91 L231.38,450.35 L245.11,453.78 L260.55,455.5" stroke="#666" stroke-width="0.65" fill="none" stroke-linejoin="round" stroke-linecap="round"/>
<path d="M173.04,398.87 L193.63,388.58 L200.5,385.15" stroke="#666" stroke-width="0.65" fill="none" stroke-linejoin="round" stroke-linecap="round"/>
<path d="M173.04,398.87 L174.76,414.32 L176.48,429.76" stroke="#666" stroke-width="0.65" fill="none" stroke-linejoin="round" stroke-linecap="round"/>
<path d="M179.91,409.17 L197.07,398.87" stroke="#666" stroke-width="0.65" fill="none" stroke-linejoin="round" stroke-linecap="round"/>
<path d="M179.91,409.17 L200.5,424.61" stroke="#666" stroke-width="0.65" fill="none" stroke-linejoin="round" stroke-linecap="round"/>
<path d="M200.5,424.61 L198.78,410.89 L197.07,398.87" stroke="#666" stroke-width="0.65" fill="none" stroke-linejoin="round" stroke-linecap="round"/>
<path d="M176.48,429.76 L185.05,445.2" stroke="#666" stroke-width="0.65" fill="none" stroke-linejoin="round" stroke-linecap="round"/>
<path d="M179.91,409.17 L181.62,422.9 L193.63,431.48 L205.65,433.19" stroke="#666" stroke-width="0.65" fill="none" stroke-linejoin="round" stroke-linecap="round"/>
<path d="M200.5,424.61 L214.22,431.48" stroke="#666" stroke-width="0.65" fill="none" stroke-linejoin="round" stroke-linecap="round"/>
<path d="M164.46,398.87 L173.04,398.87" stroke="#666" stroke-width="0.65" fill="none" stroke-linejoin="round" stroke-linecap="round"/>
<path d="M164.46,398.87 L167.9,414.32 L169.61,431.48 L176.48,438.34" stroke="#666" stroke-width="0.65" fill="none" stroke-linejoin="round" stroke-linecap="round"/>
<path d="M150.74,402.31 L164.46,398.87" stroke="#666" stroke-width="0.65" fill="none" stroke-linejoin="round" stroke-linecap="round"/>
<path d="M142.16,404.02 L150.74,402.31 L159.32,395.44 L167.9,393.73" stroke="#666" stroke-width="0.65" fill="none" stroke-linejoin="round" stroke-linecap="round"/>
<path d="M142.16,419.46 L143.02,440.05 L143.87,458.93" stroke="#666" stroke-width="0.65" fill="none" stroke-linejoin="round" stroke-linecap="round"/>
<path d="M150.74,431.48 L151.6,464.08" stroke="#666" stroke-width="0.65" fill="none" stroke-linejoin="round" stroke-linecap="round"/>
<path d="M155.89,445.2 L156.74,467.51" stroke="#666" stroke-width="0.65" fill="none" stroke-linejoin="round" stroke-linecap="round"/>
<path d="M146.45,424.61 L147.31,460.65" stroke="#666" stroke-width="0.65" fill="none" stroke-linejoin="round" stroke-linecap="round"/>
<path d="M137.01,428.04 L150.74,431.48 L167.9,429.76" stroke="#666" stroke-width="0.65" fill="none" stroke-linejoin="round" stroke-linecap="round"/>
<path d="M143.87,438.34 L155.89,445.2 L169.61,445.2" stroke="#666" stroke-width="0.65" fill="none" stroke-linejoin="round" stroke-linecap="round"/>
<path d="M135.3,414.32 L145.59,416.03 L164.46,422.9" stroke="#666" stroke-width="0.65" fill="none" stroke-linejoin="round" stroke-linecap="round"/>
<path d="M167.9,414.32 L152.45,419.46" stroke="#666" stroke-width="0.65" fill="none" stroke-linejoin="round" stroke-linecap="round"/>
<path d="M169.61,431.48 L168.75,452.07 L167.9,469.22 L167.55,482.95" stroke="#666" stroke-width="0.65" fill="none" stroke-linejoin="round" stroke-linecap="round"/>
<path d="M166.18,448.63 L169.96,448.63" stroke="#666" stroke-width="0.65" fill="none" stroke-linejoin="round" stroke-linecap="round"/>
<path d="M163.61,440.05 L169.61,440.05" stroke="#666" stroke-width="0.65" fill="none" stroke-linejoin="round" stroke-linecap="round"/>
<path d="M227.95,467.51 L251.97,462.36" stroke="#666" stroke-width="0.65" fill="none" stroke-linejoin="round" stroke-linecap="round"/>
<path d="M227.95,486.38 L243.39,482.95" stroke="#666" stroke-width="0.65" fill="none" stroke-linejoin="round" stroke-linecap="round"/>
<path d="M229.67,500.11 L238.25,498.39" stroke="#666" stroke-width="0.65" fill="none" stroke-linejoin="round" stroke-linecap="round"/>
<path d="M228.81,477.8 L239.1,476.09" stroke="#666" stroke-width="0.65" fill="none" stroke-linejoin="round" stroke-linecap="round"/>
<path d="M245.11,453.78 L248.54,469.22 L251.97,482.95" stroke="#666" stroke-width="0.65" fill="none" stroke-linejoin="round" stroke-linecap="round"/>
<path d="M260.55,455.5 L262.27,469.22 L258.84,476.09" stroke="#666" stroke-width="0.65" fill="none" stroke-linejoin="round" stroke-linecap="round"/>
<path d="M270.85,465.79 L274.28,476.09 L272.56,489.81 L262.27,500.11 L255.4,520.01" stroke="#666" stroke-width="0.65" fill="none" stroke-linejoin="round" stroke-linecap="round"/>
<path d="M262.27,469.22 L279.43,462.36 L304.99,479.52" stroke="#666" stroke-width="0.65" fill="none" stroke-linejoin="round" stroke-linecap="round"/>
<path d="M274.28,476.09 L289.72,469.22 L304.99,484.67" stroke="#666" stroke-width="0.65" fill="none" stroke-linejoin="round" stroke-linecap="round"/>
<path d="M272.56,489.81 L296.59,510.4" stroke="#666" stroke-width="0.65" fill="none" stroke-linejoin="round" stroke-linecap="round"/>
<path d="M265.7,482.95 L286.29,503.54 L279.43,513.84" stroke="#666" stroke-width="0.65" fill="none" stroke-linejoin="round" stroke-linecap="round"/>
<path d="M279.43,448.63 L289.72,452.07 L304.99,462.36" stroke="#666" stroke-width="0.65" fill="none" stroke-linejoin="round" stroke-linecap="round"/>
<path d="M276,436.62 L279.43,448.63 L272.56,460.65" stroke="#666" stroke-width="0.65" fill="none" stroke-linejoin="round" stroke-linecap="round"/>
<path d="M289.72,442.63 L286.29,448.63 L289.72,452.07" stroke="#666" stroke-width="0.65" fill="none" stroke-linejoin="round" stroke-linecap="round"/>
<path d="M152.45,443.49 C153.6,445.2 157.17,450.06 159.32,453.78 C161.46,457.5 164.04,461.79 165.32,465.79 C166.61,469.8 166.75,475.8 167.04,477.8" stroke="#000" stroke-width="2.4" fill="none" stroke-linejoin="round" stroke-linecap="round"/>
<line x1="161.89" y1="398.53" x2="174.76" y2="392.35" stroke="#000" stroke-width="1.8" stroke-linecap="round"/>
<line x1="96.9" y1="406.3" x2="114" y2="396" stroke="#222" stroke-width="0.8" stroke-linecap="butt"/>
<path d="M305,476.1 C307.83,477.42 317.33,481.52 322,484 C326.67,486.48 330,487.83 333,491 C336,494.17 338.83,501 340,503" stroke="#000" stroke-width="1.1" fill="none" stroke-linejoin="round" stroke-linecap="round"/>
<path d="M307.86,504.07 L337.43,523.79" stroke="#000" stroke-width="1.8" fill="none" stroke-linejoin="round" stroke-linecap="round"/>
<path d="M169.86,454.79 L168.62,489.29 L167.39,533.64" stroke="#666" stroke-width="0.65" fill="none" stroke-linejoin="round" stroke-linecap="round"/>
<path d="M174.79,440 L219.14,454.79 L226.54,469.57 L229,538.57 L227.77,563.21" stroke="#666" stroke-width="0.65" fill="none" stroke-linejoin="round" stroke-linecap="round"/>
<path d="M219.14,454.79 L231.46,449.86 L243.79,444.93" stroke="#666" stroke-width="0.65" fill="none" stroke-linejoin="round" stroke-linecap="round"/>
<path d="M167.39,533.64 L178.48,548.43 L229,560.75" stroke="#666" stroke-width="0.65" fill="none" stroke-linejoin="round" stroke-linecap="round"/>
<path d="M229,538.57 L233.93,548.43 L243.79,543.5" stroke="#666" stroke-width="0.65" fill="none" stroke-linejoin="round" stroke-linecap="round"/>
<path d="M231.46,489.29 L241.32,489.29" stroke="#666" stroke-width="0.65" fill="none" stroke-linejoin="round" stroke-linecap="round"/>
<path d="M230.23,513.93 L238.86,513.93" stroke="#666" stroke-width="0.65" fill="none" stroke-linejoin="round" stroke-linecap="round"/>
<path d="M227.77,479.43 L238.86,467.11" stroke="#666" stroke-width="0.65" fill="none" stroke-linejoin="round" stroke-linecap="round"/>
<path d="M238.86,467.11 L241.32,489.29 L238.86,513.93 L233.93,533.64 L233.93,548.43" stroke="#666" stroke-width="0.65" fill="none" stroke-linejoin="round" stroke-linecap="round"/>
<path d="M243.79,444.93 L253.64,459.71 L258.57,474.5 L251.18,489.29 L243.79,513.93 L238.86,538.57" stroke="#666" stroke-width="0.65" fill="none" stroke-linejoin="round" stroke-linecap="round"/>
<path d="M253.64,459.71 L268.43,467.11" stroke="#666" stroke-width="0.65" fill="none" stroke-linejoin="round" stroke-linecap="round"/>
<path d="M258.57,474.5 L270.89,476.96 L268.43,489.29 L258.57,499.14 L253.64,513.93 L246.25,533.64" stroke="#666" stroke-width="0.65" fill="none" stroke-linejoin="round" stroke-linecap="round"/>
<path d="M270.89,476.96 L298,491.75" stroke="#666" stroke-width="0.65" fill="none" stroke-linejoin="round" stroke-linecap="round"/>
<path d="M268.43,489.29 L293.07,501.61" stroke="#666" stroke-width="0.65" fill="none" stroke-linejoin="round" stroke-linecap="round"/>
<path d="M258.57,499.14 L268.43,504.07 L278.28,513.93" stroke="#666" stroke-width="0.65" fill="none" stroke-linejoin="round" stroke-linecap="round"/>
<path d="M246.25,533.64 L251.18,543.5 L258.57,555.82" stroke="#666" stroke-width="0.65" fill="none" stroke-linejoin="round" stroke-linecap="round"/>
<path d="M243.79,543.5 L246.25,533.64" stroke="#666" stroke-width="0.65" fill="none" stroke-linejoin="round" stroke-linecap="round"/>
<path d="M263.5,454.79 L332.5,489.29" stroke="#666" stroke-width="0.65" fill="none" stroke-linejoin="round" stroke-linecap="round"/>
<path d="M268.43,449.86 L337.43,483.12" stroke="#666" stroke-width="0.65" fill="none" stroke-linejoin="round" stroke-linecap="round"/>
<path d="M275.82,467.11 L317.71,489.29" stroke="#666" stroke-width="0.65" fill="none" stroke-linejoin="round" stroke-linecap="round"/>
<path d="M342.36,476.96 L352.21,484.36 L371.93,476.96 L406.43,494.21" stroke="#666" stroke-width="0.65" fill="none" stroke-linejoin="round" stroke-linecap="round"/>
<path d="M352.21,484.36 L357.14,496.68 L381.78,506.54" stroke="#666" stroke-width="0.65" fill="none" stroke-linejoin="round" stroke-linecap="round"/>
<path d="M371.93,476.96 L374.39,489.29 L357.14,496.68" stroke="#666" stroke-width="0.65" fill="none" stroke-linejoin="round" stroke-linecap="round"/>
<path d="M374.39,489.29 L406.43,504.07" stroke="#666" stroke-width="0.65" fill="none" stroke-linejoin="round" stroke-linecap="round"/>
<path d="M332.5,489.29 L347.28,499.14 L362.07,513.93 L381.78,518.86" stroke="#666" stroke-width="0.65" fill="none" stroke-linejoin="round" stroke-linecap="round"/>
<path d="M317.71,489.29 L332.5,501.61 L339.89,521.32" stroke="#666" stroke-width="0.65" fill="none" stroke-linejoin="round" stroke-linecap="round"/>
<path d="M312.78,501.61 L342.36,526.25 L357.14,521.32" stroke="#666" stroke-width="0.65" fill="none" stroke-linejoin="round" stroke-linecap="round"/>
<path d="M381.78,506.54 L391.64,513.93 L419.98,513.93" stroke="#666" stroke-width="0.65" fill="none" stroke-linejoin="round" stroke-linecap="round"/>
<path d="M381.78,518.86 L396.57,526.25" stroke="#666" stroke-width="0.65" fill="none" stroke-linejoin="round" stroke-linecap="round"/>
<path d="M406.43,504.07 L396.57,511.46 L408.89,521.32" stroke="#666" stroke-width="0.65" fill="none" stroke-linejoin="round" stroke-linecap="round"/>
<path d="M322.64,511.46 L342.36,513.93" stroke="#666" stroke-width="0.65" fill="none" stroke-linejoin="round" stroke-linecap="round"/>
<path d="M330.03,518.86 L352.21,518.86" stroke="#666" stroke-width="0.65" fill="none" stroke-linejoin="round" stroke-linecap="round"/>
<path d="M332.5,506.54 L354.68,511.46" stroke="#666" stroke-width="0.65" fill="none" stroke-linejoin="round" stroke-linecap="round"/>
<path d="M278.28,521.32 L322.64,590.32" stroke="#666" stroke-width="0.65" fill="none" stroke-linejoin="round" stroke-linecap="round"/>
<path d="M288.14,513.93 L332.5,582.93" stroke="#666" stroke-width="0.65" fill="none" stroke-linejoin="round" stroke-linecap="round"/>
<path d="M268.43,523.79 L258.57,543.5 L263.5,553.36" stroke="#666" stroke-width="0.65" fill="none" stroke-linejoin="round" stroke-linecap="round"/>
<path d="M273.36,518.86 L278.28,521.32 L288.14,513.93 L307.86,501.61" stroke="#666" stroke-width="0.65" fill="none" stroke-linejoin="round" stroke-linecap="round"/>
<path d="M298,521.32 L362.07,563.21 L364.53,578" stroke="#666" stroke-width="0.65" fill="none" stroke-linejoin="round" stroke-linecap="round"/>
<path d="M307.86,513.93 L367,548.43 L369.46,568.14 L381.78,573.07" stroke="#666" stroke-width="0.65" fill="none" stroke-linejoin="round" stroke-linecap="round"/>
<path d="M322.64,590.32 L332.5,582.93 L364.53,578 L381.78,573.07 L396.57,570.61" stroke="#666" stroke-width="0.65" fill="none" stroke-linejoin="round" stroke-linecap="round"/>
<path d="M367,548.43 L381.78,548.43 L396.57,543.5" stroke="#666" stroke-width="0.65" fill="none" stroke-linejoin="round" stroke-linecap="round"/>
<path d="M369.46,568.14 L386.71,558.28 L396.57,543.5 L419.98,538.57" stroke="#666" stroke-width="0.65" fill="none" stroke-linejoin="round" stroke-linecap="round"/>
<path d="M374.39,570.61 L391.64,553.36" stroke="#666" stroke-width="0.65" fill="none" stroke-linejoin="round" stroke-linecap="round"/>
<path d="M322.64,590.32 L380.06,579.72" stroke="#666" stroke-width="0.65" fill="none" stroke-linejoin="round" stroke-linecap="round"/>
<path d="M283.21,592.78 L380.06,585.88" stroke="#666" stroke-width="0.65" fill="none" stroke-linejoin="round" stroke-linecap="round"/>
<path d="M288.14,600.18 L380.06,598.21" stroke="#666" stroke-width="0.65" fill="none" stroke-linejoin="round" stroke-linecap="round"/>
<path d="M293.07,607.57 L380.06,603.13" stroke="#666" stroke-width="0.65" fill="none" stroke-linejoin="round" stroke-linecap="round"/>
<path d="M307.86,632.21 L380.06,640.1" stroke="#666" stroke-width="0.65" fill="none" stroke-linejoin="round" stroke-linecap="round"/>
<path d="M184.64,555.82 L209.29,563.21 L216.68,578 L224.07,592.78 L290.61,607.57" stroke="#666" stroke-width="0.65" fill="none" stroke-linejoin="round" stroke-linecap="round"/>
<path d="M189.57,550.89 L189.57,555.82" stroke="#666" stroke-width="0.65" fill="none" stroke-linejoin="round" stroke-linecap="round"/>
<path d="M174.79,545.96 L209.29,555.82 L229,560.75" stroke="#666" stroke-width="0.65" fill="none" stroke-linejoin="round" stroke-linecap="round"/>
<path d="M574.68,542.84 L601.78,523.12" stroke="#000" stroke-width="1.7" fill="none" stroke-linejoin="round" stroke-linecap="round"/>
<path d="M530.81,566.74 L537.71,565.26" stroke="#000" stroke-width="1.8" fill="none" stroke-linejoin="round" stroke-linecap="round"/>
<path d="M380,598.28 L520.46,603.21 L537.71,613.07 L542.64,627.86 L567.28,680.1 L577.14,701.78" stroke="#666" stroke-width="0.65" fill="none" stroke-linejoin="round" stroke-linecap="round"/>
<path d="M380,603.21 L518,608.14 L532.78,618 L537.71,627.86 L562.36,680.1 L570.98,699.32" stroke="#666" stroke-width="0.65" fill="none" stroke-linejoin="round" stroke-linecap="round"/>
<path d="M380,579.8 L530.32,562.55" stroke="#666" stroke-width="0.65" fill="none" stroke-linejoin="round" stroke-linecap="round"/>
<path d="M380,585.96 L532.78,566.25" stroke="#666" stroke-width="0.65" fill="none" stroke-linejoin="round" stroke-linecap="round"/>
<path d="M380,640.18 L478.57,662.36 L552.5,680.1 L601.78,691.93" stroke="#666" stroke-width="0.65" fill="none" stroke-linejoin="round" stroke-linecap="round"/>
<path d="M380,645.11 L537.71,680.1 L577.14,689.46" stroke="#666" stroke-width="0.65" fill="none" stroke-linejoin="round" stroke-linecap="round"/>
<path d="M394.79,549 L478.57,544.07 L518,551.46" stroke="#666" stroke-width="0.65" fill="none" stroke-linejoin="round" stroke-linecap="round"/>
<path d="M380,561.32 L389.86,551.46 L394.79,549" stroke="#666" stroke-width="0.65" fill="none" stroke-linejoin="round" stroke-linecap="round"/>
<path d="M380,565.02 L392.32,553.93 L478.57,547.77 L527.86,558.86" stroke="#666" stroke-width="0.65" fill="none" stroke-linejoin="round" stroke-linecap="round"/>
<path d="M532.78,566.25 L552.5,598.28 L589.46,680.1 L599.32,701.78" stroke="#666" stroke-width="0.65" fill="none" stroke-linejoin="round" stroke-linecap="round"/>
<path d="M542.64,563.79 L601.78,680.1 L612.87,701.78" stroke="#666" stroke-width="0.65" fill="none" stroke-linejoin="round" stroke-linecap="round"/>
<path d="M552.5,571.18 L609.18,680.1 L620.27,701.78" stroke="#666" stroke-width="0.65" fill="none" stroke-linejoin="round" stroke-linecap="round"/>
<path d="M557.43,568.71 L616.57,680.1 L626.43,699.32" stroke="#666" stroke-width="0.65" fill="none" stroke-linejoin="round" stroke-linecap="round"/>
<path d="M520.46,603.21 L537.71,598.28 L552.5,598.28" stroke="#666" stroke-width="0.65" fill="none" stroke-linejoin="round" stroke-linecap="round"/>
<path d="M527.86,558.86 L540.18,583.5 L537.71,598.28" stroke="#666" stroke-width="0.65" fill="none" stroke-linejoin="round" stroke-linecap="round"/>
<path d="M562.36,568.71 L591.93,573.64 L609.18,583.5 L639.98,637.71" stroke="#666" stroke-width="0.65" fill="none" stroke-linejoin="round" stroke-linecap="round"/>
<path d="M567.28,573.64 L589.46,578.57 L604.25,588.43 L639.98,652.5" stroke="#666" stroke-width="0.65" fill="none" stroke-linejoin="round" stroke-linecap="round"/>
<path d="M552.5,553.93 L572.21,546.54 L601.78,523.12" stroke="#666" stroke-width="0.65" fill="none" stroke-linejoin="round" stroke-linecap="round"/>
<path d="M557.43,556.39 L577.14,550.23 L604.25,526.82" stroke="#666" stroke-width="0.65" fill="none" stroke-linejoin="round" stroke-linecap="round"/>
<path d="M483.5,516.96 L547.57,509.57 L562.36,514.5 L596.86,521.89" stroke="#666" stroke-width="0.65" fill="none" stroke-linejoin="round" stroke-linecap="round"/>
<path d="M508.14,516.96 L542.64,524.36 L552.5,531.75 L547.57,544.07" stroke="#666" stroke-width="0.65" fill="none" stroke-linejoin="round" stroke-linecap="round"/>
<path d="M453.93,514.5 L518,529.29 L532.78,541.61 L550.03,553.93" stroke="#666" stroke-width="0.65" fill="none" stroke-linejoin="round" stroke-linecap="round"/>
<path d="M439.14,524.36 L525.39,539.14 L537.71,551.46" stroke="#666" stroke-width="0.65" fill="none" stroke-linejoin="round" stroke-linecap="round"/>
<path d="M525.39,539.14 L532.78,532.98 L547.57,532.98" stroke="#666" stroke-width="0.65" fill="none" stroke-linejoin="round" stroke-linecap="round"/>
<path d="M527.86,542.84 L537.71,535.45 L550.03,536.68" stroke="#666" stroke-width="0.65" fill="none" stroke-linejoin="round" stroke-linecap="round"/>
<path d="M530.32,546.54 L540.18,539.14 L552.5,540.37" stroke="#666" stroke-width="0.65" fill="none" stroke-linejoin="round" stroke-linecap="round"/>
<path d="M380,487.39 L404.64,492.32 L429.29,507.11 L444.07,510.8" stroke="#666" stroke-width="0.65" fill="none" stroke-linejoin="round" stroke-linecap="round"/>
<path d="M380,494.79 L402.18,500.95 L424.36,512.04 L436.68,516.96" stroke="#666" stroke-width="0.65" fill="none" stroke-linejoin="round" stroke-linecap="round"/>
<path d="M380,507.11 L397.25,504.64 L419.43,509.57 L432.98,519.43" stroke="#666" stroke-width="0.65" fill="none" stroke-linejoin="round" stroke-linecap="round"/>
<path d="M389.86,494.29 L381.23,504.64" stroke="#666" stroke-width="0.65" fill="none" stroke-linejoin="round" stroke-linecap="round"/>
<path d="M399.71,497.74 L391.09,508.34" stroke="#666" stroke-width="0.65" fill="none" stroke-linejoin="round" stroke-linecap="round"/>
<path d="M409.57,501.69 L400.95,512.04" stroke="#666" stroke-width="0.65" fill="none" stroke-linejoin="round" stroke-linecap="round"/>
<path d="M419.43,506.12 L410.8,515.98" stroke="#666" stroke-width="0.65" fill="none" stroke-linejoin="round" stroke-linecap="round"/>
<path d="M429.29,510.56 L421.4,519.43" stroke="#666" stroke-width="0.65" fill="none" stroke-linejoin="round" stroke-linecap="round"/>
<path d="M380,519.43 L394.79,516.96 L409.57,529.29 L426.82,532.98" stroke="#666" stroke-width="0.65" fill="none" stroke-linejoin="round" stroke-linecap="round"/>
<path d="M380,542.84 L387.39,536.68 L407.11,544.07 L426.82,532.98" stroke="#666" stroke-width="0.65" fill="none" stroke-linejoin="round" stroke-linecap="round"/>
<path d="M596.86,521.89 L591.93,536.68 L596.86,551.46 L616.57,561.32 L626.43,558.86" stroke="#666" stroke-width="0.65" fill="none" stroke-linejoin="round" stroke-linecap="round"/>
<path d="M596.86,551.46 L577.14,553.93 L567.28,561.32" stroke="#666" stroke-width="0.65" fill="none" stroke-linejoin="round" stroke-linecap="round"/>
<path d="M626.43,558.86 L627.66,573.64" stroke="#666" stroke-width="0.65" fill="none" stroke-linejoin="round" stroke-linecap="round"/>
<path d="M616.57,561.32 L631.36,578.57 L636.28,588.43 L632.59,578.57" stroke="#666" stroke-width="0.65" fill="none" stroke-linejoin="round" stroke-linecap="round"/>
<path d="M606.71,526.82 L639.98,532.98" stroke="#666" stroke-width="0.65" fill="none" stroke-linejoin="round" stroke-linecap="round"/>
<path d="M626.43,558.86 L639.98,556.39" stroke="#666" stroke-width="0.65" fill="none" stroke-linejoin="round" stroke-linecap="round"/>
<path d="M631.36,584.73 L636.28,577.34 L638.26,585.96" stroke="#000" stroke-width="1.3" fill="none" stroke-linejoin="round" stroke-linecap="round"/>
<path d="M717.51,597.95 L727.47,609.32" stroke="#222" stroke-width="1.2" fill="none" stroke-linejoin="round" stroke-linecap="round"/>
<path d="M750.21,630.65 L757.32,639.18" stroke="#222" stroke-width="1.2" fill="none" stroke-linejoin="round" stroke-linecap="round"/>
<path d="M619.42,524.02 L642.17,541.08 L650.7,539.66 L670.6,545.35 L681.97,555.3" stroke="#666" stroke-width="0.65" fill="none" stroke-linejoin="round" stroke-linecap="round"/>
<path d="M642.17,541.08 L633.64,583.73 L630.79,589.42" stroke="#666" stroke-width="0.65" fill="none" stroke-linejoin="round" stroke-linecap="round"/>
<path d="M650.7,539.66 L646.43,595.11" stroke="#666" stroke-width="0.65" fill="none" stroke-linejoin="round" stroke-linecap="round"/>
<path d="M654.96,541.08 L653.54,555.3 L647.85,600.79" stroke="#666" stroke-width="0.65" fill="none" stroke-linejoin="round" stroke-linecap="round"/>
<path d="M670.6,545.35 L670.6,634.91" stroke="#666" stroke-width="0.65" fill="none" stroke-linejoin="round" stroke-linecap="round"/>
<path d="M667.76,546.77 L669.18,636.33" stroke="#666" stroke-width="0.65" fill="none" stroke-linejoin="round" stroke-linecap="round"/>
<path d="M674.86,549.61 L699.03,646.29 L707.56,656.24" stroke="#666" stroke-width="0.65" fill="none" stroke-linejoin="round" stroke-linecap="round"/>
<path d="M677.71,552.46 L704.72,649.13" stroke="#666" stroke-width="0.65" fill="none" stroke-linejoin="round" stroke-linecap="round"/>
<path d="M681.97,555.3 L699.03,578.05 L724.62,606.48 L755.9,640.6 L767.27,651.97 L765.85,667.61" stroke="#666" stroke-width="0.65" fill="none" stroke-linejoin="round" stroke-linecap="round"/>
<path d="M684.82,563.83 L696.19,582.31" stroke="#666" stroke-width="0.65" fill="none" stroke-linejoin="round" stroke-linecap="round"/>
<path d="M670.6,634.91 L679.13,647.71" stroke="#666" stroke-width="0.65" fill="none" stroke-linejoin="round" stroke-linecap="round"/>
<path d="M707.56,656.24 L765.85,666.19" stroke="#666" stroke-width="0.65" fill="none" stroke-linejoin="round" stroke-linecap="round"/>
<path d="M708.98,653.39 L764.43,663.35" stroke="#666" stroke-width="0.65" fill="none" stroke-linejoin="round" stroke-linecap="round"/>
<path d="M767.27,651.97 L772.96,654.82 L775.23,659.08" stroke="#666" stroke-width="0.65" fill="none" stroke-linejoin="round" stroke-linecap="round"/>
<path d="M755.9,640.6 L753.06,636.33" stroke="#666" stroke-width="0.65" fill="none" stroke-linejoin="round" stroke-linecap="round"/>
<path d="M630.79,586.58 L647.85,612.17 L670.6,646.29 L696.19,688.94 L699.03,700.03" stroke="#666" stroke-width="0.65" fill="none" stroke-linejoin="round" stroke-linecap="round"/>
<path d="M633.64,595.11 L659.23,634.91 L684.82,674.72 L696.19,697.47" stroke="#666" stroke-width="0.65" fill="none" stroke-linejoin="round" stroke-linecap="round"/>
<path d="M625.11,580.89 L613.73,569.52 L593.83,570.94" stroke="#666" stroke-width="0.65" fill="none" stroke-linejoin="round" stroke-linecap="round"/>
<path d="M593.83,570.94 L608.05,583.73 L659.23,680.41 L650.7,683.25 L613.73,674.72 L608.05,686.09 L585.3,683.25 L565.4,680.41 L559.71,683.25" stroke="#666" stroke-width="0.65" fill="none" stroke-linejoin="round" stroke-linecap="round"/>
<path d="M585.3,683.25 L582.46,700.03" stroke="#666" stroke-width="0.65" fill="none" stroke-linejoin="round" stroke-linecap="round"/>
<path d="M608.05,686.09 L602.36,700.03" stroke="#666" stroke-width="0.65" fill="none" stroke-linejoin="round" stroke-linecap="round"/>
<path d="M565.4,680.41 L562.55,700.03" stroke="#666" stroke-width="0.65" fill="none" stroke-linejoin="round" stroke-linecap="round"/>
<path d="M500,666.19 L556.87,680.41" stroke="#666" stroke-width="0.65" fill="none" stroke-linejoin="round" stroke-linecap="round"/>
<path d="M500,674.72 L559.71,688.94" stroke="#666" stroke-width="0.65" fill="none" stroke-linejoin="round" stroke-linecap="round"/>
<path d="M659.23,680.41 L696.19,688.94" stroke="#666" stroke-width="0.65" fill="none" stroke-linejoin="round" stroke-linecap="round"/>
<path d="M650.7,683.25 L681.97,694.62 L696.19,697.47" stroke="#666" stroke-width="0.65" fill="none" stroke-linejoin="round" stroke-linecap="round"/>
<path d="M593.83,531.13 L613.73,555.3 L625.11,555.3 L627.95,575.2" stroke="#666" stroke-width="0.65" fill="none" stroke-linejoin="round" stroke-linecap="round"/>
<path d="M571.08,552.46 L585.3,551.03 L613.73,555.3" stroke="#666" stroke-width="0.65" fill="none" stroke-linejoin="round" stroke-linecap="round"/>
<path d="M625.11,555.3 L619.42,568.09 L593.83,570.94" stroke="#666" stroke-width="0.65" fill="none" stroke-linejoin="round" stroke-linecap="round"/>
<path d="M636.48,583.73 L630.79,578.05 L625.11,555.3" stroke="#666" stroke-width="0.65" fill="none" stroke-linejoin="round" stroke-linecap="round"/>
</svg></body></html>
